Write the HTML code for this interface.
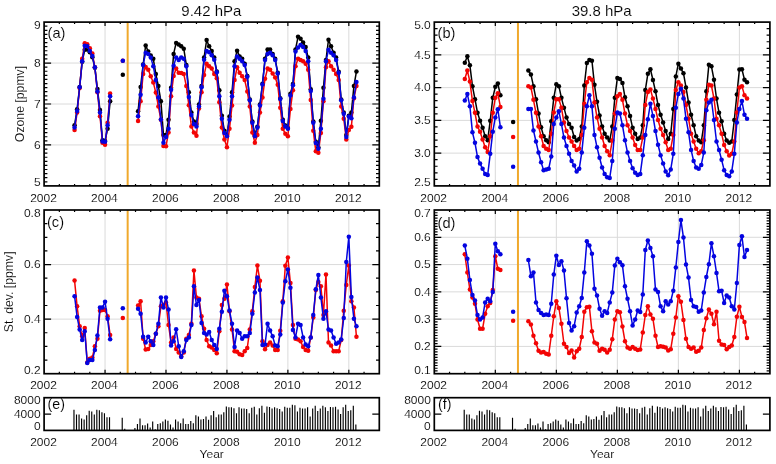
<!DOCTYPE html>
<html><head><meta charset="utf-8"><title>Ozone time series</title>
<style>html,body{margin:0;padding:0;background:#fff}svg{display:block;will-change:transform}</style></head>
<body>
<svg width="776" height="464" viewBox="0 0 776 464" font-family="'Liberation Sans', sans-serif" fill="#000">
<rect width="776" height="464" fill="#fff"/>
<g stroke="#dadada" stroke-width="1"><line x1="105.05" y1="22.1" x2="105.05" y2="185.9"/><line x1="165.99" y1="22.1" x2="165.99" y2="185.9"/><line x1="226.94" y1="22.1" x2="226.94" y2="185.9"/><line x1="287.88" y1="22.1" x2="287.88" y2="185.9"/><line x1="348.83" y1="22.1" x2="348.83" y2="185.9"/><line x1="44.1" y1="144.95" x2="379.3" y2="144.95"/><line x1="44.1" y1="104" x2="379.3" y2="104"/><line x1="44.1" y1="63.05" x2="379.3" y2="63.05"/></g>
<line x1="127.66" y1="22.1" x2="127.66" y2="185.9" stroke="#f0a92c" stroke-width="2"/>
<path d="M74.57 125.16L77.11 109.29L79.65 86.9L82.19 61.67L84.73 49.86L87.27 49.46L89.81 52.31L92.35 57.19L94.89 67.77L97.43 88.94L99.97 110.1L102.51 140.22L105.05 141.03L107.58 128.82L110.12 101.15M138.06 111.32L140.6 86.9L143.14 64.52L145.68 45.39L148.22 51.49L150.75 55.56L153.29 58.82L155.83 73.88L158.37 86.09L160.91 101.15L163.45 134.93L165.99 134.93L168.53 119.87L171.07 87.71L173.61 53.93L176.15 42.94L178.69 44.57L181.23 46.2L183.77 48.64L186.31 64.92L188.85 92.19L191.38 112.54L193.92 121.5L196.46 123.94L199 104.4L201.54 86.09L204.08 57.6L206.62 40.09L209.16 46.2L211.7 51.08L214.24 57.6L216.78 71.43L219.32 90.16L221.86 115.8L224.4 130.86L226.94 134.93L229.48 116.61L232.02 92.19L234.55 61.26L237.09 50.68L239.63 56.38L242.17 58.82L244.71 63.7L247.25 75.91L249.79 99.52L252.33 121.5L254.87 134.93L257.41 126.79L259.95 104.4L262.49 83.64L265.03 58.82L267.57 49.46L270.11 49.46L272.65 53.93L275.18 58.82L277.72 72.66L280.26 98.3L282.8 119.87L285.34 125.57L287.88 128.01L290.42 93.82L292.96 84.05L295.5 49.46L298.04 36.84L300.58 38.87L303.12 42.54L305.66 47.01L308.2 57.6L310.74 89.34L313.28 121.5L315.82 141.85L318.35 147.14L320.89 120.68L323.43 87.71L325.97 60.04L328.51 39.69L331.05 46.2L333.59 52.71L336.13 57.6L338.67 71.84L341.21 99.52L343.75 112.54L346.29 134.93L348.83 115.8L351.37 112.54L353.91 86.09L356.45 71.43" stroke="#000" stroke-width="1.5" fill="none" stroke-linejoin="round"/>
<g fill="#000"><circle cx="74.57" cy="125.16" r="2.25"/><circle cx="77.11" cy="109.29" r="2.25"/><circle cx="79.65" cy="86.9" r="2.25"/><circle cx="82.19" cy="61.67" r="2.25"/><circle cx="84.73" cy="49.86" r="2.25"/><circle cx="87.27" cy="49.46" r="2.25"/><circle cx="89.81" cy="52.31" r="2.25"/><circle cx="92.35" cy="57.19" r="2.25"/><circle cx="94.89" cy="67.77" r="2.25"/><circle cx="97.43" cy="88.94" r="2.25"/><circle cx="99.97" cy="110.1" r="2.25"/><circle cx="102.51" cy="140.22" r="2.25"/><circle cx="105.05" cy="141.03" r="2.25"/><circle cx="107.58" cy="128.82" r="2.25"/><circle cx="110.12" cy="101.15" r="2.25"/><circle cx="122.82" cy="74.69" r="2.25"/><circle cx="138.06" cy="111.32" r="2.25"/><circle cx="140.6" cy="86.9" r="2.25"/><circle cx="143.14" cy="64.52" r="2.25"/><circle cx="145.68" cy="45.39" r="2.25"/><circle cx="148.22" cy="51.49" r="2.25"/><circle cx="150.75" cy="55.56" r="2.25"/><circle cx="153.29" cy="58.82" r="2.25"/><circle cx="155.83" cy="73.88" r="2.25"/><circle cx="158.37" cy="86.09" r="2.25"/><circle cx="160.91" cy="101.15" r="2.25"/><circle cx="163.45" cy="134.93" r="2.25"/><circle cx="165.99" cy="134.93" r="2.25"/><circle cx="168.53" cy="119.87" r="2.25"/><circle cx="171.07" cy="87.71" r="2.25"/><circle cx="173.61" cy="53.93" r="2.25"/><circle cx="176.15" cy="42.94" r="2.25"/><circle cx="178.69" cy="44.57" r="2.25"/><circle cx="181.23" cy="46.2" r="2.25"/><circle cx="183.77" cy="48.64" r="2.25"/><circle cx="186.31" cy="64.92" r="2.25"/><circle cx="188.85" cy="92.19" r="2.25"/><circle cx="191.38" cy="112.54" r="2.25"/><circle cx="193.92" cy="121.5" r="2.25"/><circle cx="196.46" cy="123.94" r="2.25"/><circle cx="199" cy="104.4" r="2.25"/><circle cx="201.54" cy="86.09" r="2.25"/><circle cx="204.08" cy="57.6" r="2.25"/><circle cx="206.62" cy="40.09" r="2.25"/><circle cx="209.16" cy="46.2" r="2.25"/><circle cx="211.7" cy="51.08" r="2.25"/><circle cx="214.24" cy="57.6" r="2.25"/><circle cx="216.78" cy="71.43" r="2.25"/><circle cx="219.32" cy="90.16" r="2.25"/><circle cx="221.86" cy="115.8" r="2.25"/><circle cx="224.4" cy="130.86" r="2.25"/><circle cx="226.94" cy="134.93" r="2.25"/><circle cx="229.48" cy="116.61" r="2.25"/><circle cx="232.02" cy="92.19" r="2.25"/><circle cx="234.55" cy="61.26" r="2.25"/><circle cx="237.09" cy="50.68" r="2.25"/><circle cx="239.63" cy="56.38" r="2.25"/><circle cx="242.17" cy="58.82" r="2.25"/><circle cx="244.71" cy="63.7" r="2.25"/><circle cx="247.25" cy="75.91" r="2.25"/><circle cx="249.79" cy="99.52" r="2.25"/><circle cx="252.33" cy="121.5" r="2.25"/><circle cx="254.87" cy="134.93" r="2.25"/><circle cx="257.41" cy="126.79" r="2.25"/><circle cx="259.95" cy="104.4" r="2.25"/><circle cx="262.49" cy="83.64" r="2.25"/><circle cx="265.03" cy="58.82" r="2.25"/><circle cx="267.57" cy="49.46" r="2.25"/><circle cx="270.11" cy="49.46" r="2.25"/><circle cx="272.65" cy="53.93" r="2.25"/><circle cx="275.18" cy="58.82" r="2.25"/><circle cx="277.72" cy="72.66" r="2.25"/><circle cx="280.26" cy="98.3" r="2.25"/><circle cx="282.8" cy="119.87" r="2.25"/><circle cx="285.34" cy="125.57" r="2.25"/><circle cx="287.88" cy="128.01" r="2.25"/><circle cx="290.42" cy="93.82" r="2.25"/><circle cx="292.96" cy="84.05" r="2.25"/><circle cx="295.5" cy="49.46" r="2.25"/><circle cx="298.04" cy="36.84" r="2.25"/><circle cx="300.58" cy="38.87" r="2.25"/><circle cx="303.12" cy="42.54" r="2.25"/><circle cx="305.66" cy="47.01" r="2.25"/><circle cx="308.2" cy="57.6" r="2.25"/><circle cx="310.74" cy="89.34" r="2.25"/><circle cx="313.28" cy="121.5" r="2.25"/><circle cx="315.82" cy="141.85" r="2.25"/><circle cx="318.35" cy="147.14" r="2.25"/><circle cx="320.89" cy="120.68" r="2.25"/><circle cx="323.43" cy="87.71" r="2.25"/><circle cx="325.97" cy="60.04" r="2.25"/><circle cx="328.51" cy="39.69" r="2.25"/><circle cx="331.05" cy="46.2" r="2.25"/><circle cx="333.59" cy="52.71" r="2.25"/><circle cx="336.13" cy="57.6" r="2.25"/><circle cx="338.67" cy="71.84" r="2.25"/><circle cx="341.21" cy="99.52" r="2.25"/><circle cx="343.75" cy="112.54" r="2.25"/><circle cx="346.29" cy="134.93" r="2.25"/><circle cx="348.83" cy="115.8" r="2.25"/><circle cx="351.37" cy="112.54" r="2.25"/><circle cx="353.91" cy="86.09" r="2.25"/><circle cx="356.45" cy="71.43" r="2.25"/></g>
<path d="M74.57 130.04L77.11 112.54L79.65 88.12L82.19 58.82L84.73 43.35L87.27 44.17L89.81 48.24L92.35 53.53L94.89 67.36L97.43 92.19L99.97 116.2L102.51 142.66L105.05 144.69L107.58 122.72L110.12 93.41M138.06 121.09L140.6 101.15L143.14 73.88L145.68 66.96L148.22 69.81L150.75 76.32L153.29 82.42L155.83 92.6L158.37 106.44L160.91 119.87L163.45 145.92L165.99 146.32L168.53 132.48L171.07 96.26L173.61 75.91L176.15 68.59L178.69 72.66L181.23 73.06L183.77 73.88L186.31 86.09L188.85 105.22L191.38 126.38L193.92 132.48L196.46 135.74L199 108.47L201.54 92.19L204.08 75.1L206.62 63.7L209.16 66.14L211.7 68.59L214.24 73.88L216.78 78.35L219.32 102.37L221.86 127.6L224.4 139.4L226.94 147.14L229.48 128.82L232.02 105.62L234.55 79.98L237.09 67.36L239.63 72.66L242.17 76.32L244.71 79.98L247.25 91.38L249.79 106.44L252.33 132.48L254.87 142.66L257.41 134.93L259.95 112.54L262.49 97.48L265.03 78.76L267.57 68.59L270.11 69.81L272.65 73.47L275.18 77.54L277.72 84.87L280.26 107.66L282.8 128.82L285.34 133.71L287.88 136.15L290.42 108.88L292.96 90.16L295.5 66.14L298.04 58.82L300.58 60.04L303.12 61.26L305.66 63.7L308.2 69.81L310.74 99.92L313.28 130.86L315.82 151.21L318.35 152.83L320.89 132.89L323.43 101.15L325.97 67.36L328.51 61.26L331.05 66.14L333.59 69.81L336.13 73.88L338.67 79.98L341.21 106.44L343.75 118.65L346.29 139.4L348.83 130.04L351.37 126.79L353.91 98.3L356.45 86.09" stroke="#f20404" stroke-width="1.5" fill="none" stroke-linejoin="round"/>
<g fill="#f20404"><circle cx="74.57" cy="130.04" r="2.25"/><circle cx="77.11" cy="112.54" r="2.25"/><circle cx="79.65" cy="88.12" r="2.25"/><circle cx="82.19" cy="58.82" r="2.25"/><circle cx="84.73" cy="43.35" r="2.25"/><circle cx="87.27" cy="44.17" r="2.25"/><circle cx="89.81" cy="48.24" r="2.25"/><circle cx="92.35" cy="53.53" r="2.25"/><circle cx="94.89" cy="67.36" r="2.25"/><circle cx="97.43" cy="92.19" r="2.25"/><circle cx="99.97" cy="116.2" r="2.25"/><circle cx="102.51" cy="142.66" r="2.25"/><circle cx="105.05" cy="144.69" r="2.25"/><circle cx="107.58" cy="122.72" r="2.25"/><circle cx="110.12" cy="93.41" r="2.25"/><circle cx="122.82" cy="60.85" r="2.25"/><circle cx="138.06" cy="121.09" r="2.25"/><circle cx="140.6" cy="101.15" r="2.25"/><circle cx="143.14" cy="73.88" r="2.25"/><circle cx="145.68" cy="66.96" r="2.25"/><circle cx="148.22" cy="69.81" r="2.25"/><circle cx="150.75" cy="76.32" r="2.25"/><circle cx="153.29" cy="82.42" r="2.25"/><circle cx="155.83" cy="92.6" r="2.25"/><circle cx="158.37" cy="106.44" r="2.25"/><circle cx="160.91" cy="119.87" r="2.25"/><circle cx="163.45" cy="145.92" r="2.25"/><circle cx="165.99" cy="146.32" r="2.25"/><circle cx="168.53" cy="132.48" r="2.25"/><circle cx="171.07" cy="96.26" r="2.25"/><circle cx="173.61" cy="75.91" r="2.25"/><circle cx="176.15" cy="68.59" r="2.25"/><circle cx="178.69" cy="72.66" r="2.25"/><circle cx="181.23" cy="73.06" r="2.25"/><circle cx="183.77" cy="73.88" r="2.25"/><circle cx="186.31" cy="86.09" r="2.25"/><circle cx="188.85" cy="105.22" r="2.25"/><circle cx="191.38" cy="126.38" r="2.25"/><circle cx="193.92" cy="132.48" r="2.25"/><circle cx="196.46" cy="135.74" r="2.25"/><circle cx="199" cy="108.47" r="2.25"/><circle cx="201.54" cy="92.19" r="2.25"/><circle cx="204.08" cy="75.1" r="2.25"/><circle cx="206.62" cy="63.7" r="2.25"/><circle cx="209.16" cy="66.14" r="2.25"/><circle cx="211.7" cy="68.59" r="2.25"/><circle cx="214.24" cy="73.88" r="2.25"/><circle cx="216.78" cy="78.35" r="2.25"/><circle cx="219.32" cy="102.37" r="2.25"/><circle cx="221.86" cy="127.6" r="2.25"/><circle cx="224.4" cy="139.4" r="2.25"/><circle cx="226.94" cy="147.14" r="2.25"/><circle cx="229.48" cy="128.82" r="2.25"/><circle cx="232.02" cy="105.62" r="2.25"/><circle cx="234.55" cy="79.98" r="2.25"/><circle cx="237.09" cy="67.36" r="2.25"/><circle cx="239.63" cy="72.66" r="2.25"/><circle cx="242.17" cy="76.32" r="2.25"/><circle cx="244.71" cy="79.98" r="2.25"/><circle cx="247.25" cy="91.38" r="2.25"/><circle cx="249.79" cy="106.44" r="2.25"/><circle cx="252.33" cy="132.48" r="2.25"/><circle cx="254.87" cy="142.66" r="2.25"/><circle cx="257.41" cy="134.93" r="2.25"/><circle cx="259.95" cy="112.54" r="2.25"/><circle cx="262.49" cy="97.48" r="2.25"/><circle cx="265.03" cy="78.76" r="2.25"/><circle cx="267.57" cy="68.59" r="2.25"/><circle cx="270.11" cy="69.81" r="2.25"/><circle cx="272.65" cy="73.47" r="2.25"/><circle cx="275.18" cy="77.54" r="2.25"/><circle cx="277.72" cy="84.87" r="2.25"/><circle cx="280.26" cy="107.66" r="2.25"/><circle cx="282.8" cy="128.82" r="2.25"/><circle cx="285.34" cy="133.71" r="2.25"/><circle cx="287.88" cy="136.15" r="2.25"/><circle cx="290.42" cy="108.88" r="2.25"/><circle cx="292.96" cy="90.16" r="2.25"/><circle cx="295.5" cy="66.14" r="2.25"/><circle cx="298.04" cy="58.82" r="2.25"/><circle cx="300.58" cy="60.04" r="2.25"/><circle cx="303.12" cy="61.26" r="2.25"/><circle cx="305.66" cy="63.7" r="2.25"/><circle cx="308.2" cy="69.81" r="2.25"/><circle cx="310.74" cy="99.92" r="2.25"/><circle cx="313.28" cy="130.86" r="2.25"/><circle cx="315.82" cy="151.21" r="2.25"/><circle cx="318.35" cy="152.83" r="2.25"/><circle cx="320.89" cy="132.89" r="2.25"/><circle cx="323.43" cy="101.15" r="2.25"/><circle cx="325.97" cy="67.36" r="2.25"/><circle cx="328.51" cy="61.26" r="2.25"/><circle cx="331.05" cy="66.14" r="2.25"/><circle cx="333.59" cy="69.81" r="2.25"/><circle cx="336.13" cy="73.88" r="2.25"/><circle cx="338.67" cy="79.98" r="2.25"/><circle cx="341.21" cy="106.44" r="2.25"/><circle cx="343.75" cy="118.65" r="2.25"/><circle cx="346.29" cy="139.4" r="2.25"/><circle cx="348.83" cy="130.04" r="2.25"/><circle cx="351.37" cy="126.79" r="2.25"/><circle cx="353.91" cy="98.3" r="2.25"/><circle cx="356.45" cy="86.09" r="2.25"/></g>
<path d="M74.57 127.6L77.11 110.91L79.65 87.31L82.19 61.26L84.73 45.79L87.27 46.2L89.81 51.08L92.35 55.97L94.89 67.36L97.43 91.38L99.97 112.54L102.51 141.44L105.05 141.85L107.58 125.16L110.12 96.26M138.06 116.2L140.6 94.63L143.14 64.92L145.68 52.71L148.22 53.93L150.75 57.6L153.29 66.14L155.83 79.98L158.37 97.48L160.91 119.46L163.45 142.66L165.99 136.96L168.53 128.82L171.07 89.75L173.61 65.74L176.15 57.6L178.69 60.04L181.23 57.6L183.77 58.82L186.31 66.14L188.85 97.08L191.38 114.98L193.92 123.94L196.46 126.38L199 106.44L201.54 87.31L204.08 59.63L206.62 51.08L209.16 52.31L211.7 55.15L214.24 59.63L216.78 72.25L219.32 96.26L221.86 118.65L224.4 132.89L226.94 136.15L229.48 119.87L232.02 96.26L234.55 66.14L237.09 56.38L239.63 58.82L242.17 61.26L244.71 64.92L247.25 76.73L249.79 100.33L252.33 122.72L254.87 136.15L257.41 127.6L259.95 105.62L262.49 84.46L265.03 60.04L267.57 53.93L270.11 52.71L272.65 55.15L275.18 60.04L277.72 73.47L280.26 99.11L282.8 121.09L285.34 126.38L287.88 128.82L290.42 95.45L292.96 85.27L295.5 51.49L298.04 47.42L300.58 44.98L303.12 47.01L305.66 51.08L308.2 61.26L310.74 90.97L313.28 122.72L315.82 143.07L318.35 148.76L320.89 128.82L323.43 98.7L325.97 61.26L328.51 49.86L331.05 52.71L333.59 55.15L336.13 60.04L338.67 72.66L341.21 100.33L343.75 113.76L346.29 136.96L348.83 116.61L351.37 118.24L353.91 97.48L356.45 82.02" stroke="#0404e0" stroke-width="1.5" fill="none" stroke-linejoin="round"/>
<g fill="#0404e0"><circle cx="74.57" cy="127.6" r="2.25"/><circle cx="77.11" cy="110.91" r="2.25"/><circle cx="79.65" cy="87.31" r="2.25"/><circle cx="82.19" cy="61.26" r="2.25"/><circle cx="84.73" cy="45.79" r="2.25"/><circle cx="87.27" cy="46.2" r="2.25"/><circle cx="89.81" cy="51.08" r="2.25"/><circle cx="92.35" cy="55.97" r="2.25"/><circle cx="94.89" cy="67.36" r="2.25"/><circle cx="97.43" cy="91.38" r="2.25"/><circle cx="99.97" cy="112.54" r="2.25"/><circle cx="102.51" cy="141.44" r="2.25"/><circle cx="105.05" cy="141.85" r="2.25"/><circle cx="107.58" cy="125.16" r="2.25"/><circle cx="110.12" cy="96.26" r="2.25"/><circle cx="122.82" cy="60.85" r="2.25"/><circle cx="138.06" cy="116.2" r="2.25"/><circle cx="140.6" cy="94.63" r="2.25"/><circle cx="143.14" cy="64.92" r="2.25"/><circle cx="145.68" cy="52.71" r="2.25"/><circle cx="148.22" cy="53.93" r="2.25"/><circle cx="150.75" cy="57.6" r="2.25"/><circle cx="153.29" cy="66.14" r="2.25"/><circle cx="155.83" cy="79.98" r="2.25"/><circle cx="158.37" cy="97.48" r="2.25"/><circle cx="160.91" cy="119.46" r="2.25"/><circle cx="163.45" cy="142.66" r="2.25"/><circle cx="165.99" cy="136.96" r="2.25"/><circle cx="168.53" cy="128.82" r="2.25"/><circle cx="171.07" cy="89.75" r="2.25"/><circle cx="173.61" cy="65.74" r="2.25"/><circle cx="176.15" cy="57.6" r="2.25"/><circle cx="178.69" cy="60.04" r="2.25"/><circle cx="181.23" cy="57.6" r="2.25"/><circle cx="183.77" cy="58.82" r="2.25"/><circle cx="186.31" cy="66.14" r="2.25"/><circle cx="188.85" cy="97.08" r="2.25"/><circle cx="191.38" cy="114.98" r="2.25"/><circle cx="193.92" cy="123.94" r="2.25"/><circle cx="196.46" cy="126.38" r="2.25"/><circle cx="199" cy="106.44" r="2.25"/><circle cx="201.54" cy="87.31" r="2.25"/><circle cx="204.08" cy="59.63" r="2.25"/><circle cx="206.62" cy="51.08" r="2.25"/><circle cx="209.16" cy="52.31" r="2.25"/><circle cx="211.7" cy="55.15" r="2.25"/><circle cx="214.24" cy="59.63" r="2.25"/><circle cx="216.78" cy="72.25" r="2.25"/><circle cx="219.32" cy="96.26" r="2.25"/><circle cx="221.86" cy="118.65" r="2.25"/><circle cx="224.4" cy="132.89" r="2.25"/><circle cx="226.94" cy="136.15" r="2.25"/><circle cx="229.48" cy="119.87" r="2.25"/><circle cx="232.02" cy="96.26" r="2.25"/><circle cx="234.55" cy="66.14" r="2.25"/><circle cx="237.09" cy="56.38" r="2.25"/><circle cx="239.63" cy="58.82" r="2.25"/><circle cx="242.17" cy="61.26" r="2.25"/><circle cx="244.71" cy="64.92" r="2.25"/><circle cx="247.25" cy="76.73" r="2.25"/><circle cx="249.79" cy="100.33" r="2.25"/><circle cx="252.33" cy="122.72" r="2.25"/><circle cx="254.87" cy="136.15" r="2.25"/><circle cx="257.41" cy="127.6" r="2.25"/><circle cx="259.95" cy="105.62" r="2.25"/><circle cx="262.49" cy="84.46" r="2.25"/><circle cx="265.03" cy="60.04" r="2.25"/><circle cx="267.57" cy="53.93" r="2.25"/><circle cx="270.11" cy="52.71" r="2.25"/><circle cx="272.65" cy="55.15" r="2.25"/><circle cx="275.18" cy="60.04" r="2.25"/><circle cx="277.72" cy="73.47" r="2.25"/><circle cx="280.26" cy="99.11" r="2.25"/><circle cx="282.8" cy="121.09" r="2.25"/><circle cx="285.34" cy="126.38" r="2.25"/><circle cx="287.88" cy="128.82" r="2.25"/><circle cx="290.42" cy="95.45" r="2.25"/><circle cx="292.96" cy="85.27" r="2.25"/><circle cx="295.5" cy="51.49" r="2.25"/><circle cx="298.04" cy="47.42" r="2.25"/><circle cx="300.58" cy="44.98" r="2.25"/><circle cx="303.12" cy="47.01" r="2.25"/><circle cx="305.66" cy="51.08" r="2.25"/><circle cx="308.2" cy="61.26" r="2.25"/><circle cx="310.74" cy="90.97" r="2.25"/><circle cx="313.28" cy="122.72" r="2.25"/><circle cx="315.82" cy="143.07" r="2.25"/><circle cx="318.35" cy="148.76" r="2.25"/><circle cx="320.89" cy="128.82" r="2.25"/><circle cx="323.43" cy="98.7" r="2.25"/><circle cx="325.97" cy="61.26" r="2.25"/><circle cx="328.51" cy="49.86" r="2.25"/><circle cx="331.05" cy="52.71" r="2.25"/><circle cx="333.59" cy="55.15" r="2.25"/><circle cx="336.13" cy="60.04" r="2.25"/><circle cx="338.67" cy="72.66" r="2.25"/><circle cx="341.21" cy="100.33" r="2.25"/><circle cx="343.75" cy="113.76" r="2.25"/><circle cx="346.29" cy="136.96" r="2.25"/><circle cx="348.83" cy="116.61" r="2.25"/><circle cx="351.37" cy="118.24" r="2.25"/><circle cx="353.91" cy="97.48" r="2.25"/><circle cx="356.45" cy="82.02" r="2.25"/></g>
<path d="M59.34 185.9v-2M59.34 22.1v2M74.57 185.9v-2M74.57 22.1v2M89.81 185.9v-2M89.81 22.1v2M105.05 185.9v-4M105.05 22.1v4M120.28 185.9v-2M120.28 22.1v2M135.52 185.9v-2M135.52 22.1v2M150.75 185.9v-2M150.75 22.1v2M165.99 185.9v-4M165.99 22.1v4M181.23 185.9v-2M181.23 22.1v2M196.46 185.9v-2M196.46 22.1v2M211.7 185.9v-2M211.7 22.1v2M226.94 185.9v-4M226.94 22.1v4M242.17 185.9v-2M242.17 22.1v2M257.41 185.9v-2M257.41 22.1v2M272.65 185.9v-2M272.65 22.1v2M287.88 185.9v-4M287.88 22.1v4M303.12 185.9v-2M303.12 22.1v2M318.35 185.9v-2M318.35 22.1v2M333.59 185.9v-2M333.59 22.1v2M348.83 185.9v-4M348.83 22.1v4M364.06 185.9v-2M364.06 22.1v2M44.1 181.81h3.3M379.3 181.81h-3.3M44.1 177.71h3.3M379.3 177.71h-3.3M44.1 173.62h3.3M379.3 173.62h-3.3M44.1 169.52h3.3M379.3 169.52h-3.3M44.1 165.43h3.3M379.3 165.43h-3.3M44.1 161.33h3.3M379.3 161.33h-3.3M44.1 157.23h3.3M379.3 157.23h-3.3M44.1 153.14h3.3M379.3 153.14h-3.3M44.1 149.04h3.3M379.3 149.04h-3.3M44.1 144.95h7M379.3 144.95h-7M44.1 140.86h3.3M379.3 140.86h-3.3M44.1 136.76h3.3M379.3 136.76h-3.3M44.1 132.67h3.3M379.3 132.67h-3.3M44.1 128.57h3.3M379.3 128.57h-3.3M44.1 124.47h3.3M379.3 124.47h-3.3M44.1 120.38h3.3M379.3 120.38h-3.3M44.1 116.28h3.3M379.3 116.28h-3.3M44.1 112.19h3.3M379.3 112.19h-3.3M44.1 108.09h3.3M379.3 108.09h-3.3M44.1 104h7M379.3 104h-7M44.1 99.91h3.3M379.3 99.91h-3.3M44.1 95.81h3.3M379.3 95.81h-3.3M44.1 91.71h3.3M379.3 91.71h-3.3M44.1 87.62h3.3M379.3 87.62h-3.3M44.1 83.53h3.3M379.3 83.53h-3.3M44.1 79.43h3.3M379.3 79.43h-3.3M44.1 75.33h3.3M379.3 75.33h-3.3M44.1 71.24h3.3M379.3 71.24h-3.3M44.1 67.14h3.3M379.3 67.14h-3.3M44.1 63.05h7M379.3 63.05h-7M44.1 58.96h3.3M379.3 58.96h-3.3M44.1 54.86h3.3M379.3 54.86h-3.3M44.1 50.76h3.3M379.3 50.76h-3.3M44.1 46.67h3.3M379.3 46.67h-3.3M44.1 42.57h3.3M379.3 42.57h-3.3M44.1 38.48h3.3M379.3 38.48h-3.3M44.1 34.39h3.3M379.3 34.39h-3.3M44.1 30.29h3.3M379.3 30.29h-3.3M44.1 26.19h3.3M379.3 26.19h-3.3" stroke="#000" stroke-width="1.2" fill="none"/>
<rect x="44.1" y="22.1" width="335.2" height="163.8" fill="none" stroke="#000" stroke-width="1.7"/>
<text transform="translate(43.5,201.5) scale(1,0.96)" font-size="12.0" text-anchor="middle" stroke="#fff" stroke-width="0.12">2002</text>
<text transform="translate(104.45,201.5) scale(1,0.96)" font-size="12.0" text-anchor="middle" stroke="#fff" stroke-width="0.12">2004</text>
<text transform="translate(165.39,201.5) scale(1,0.96)" font-size="12.0" text-anchor="middle" stroke="#fff" stroke-width="0.12">2006</text>
<text transform="translate(226.34,201.5) scale(1,0.96)" font-size="12.0" text-anchor="middle" stroke="#fff" stroke-width="0.12">2008</text>
<text transform="translate(287.28,201.5) scale(1,0.96)" font-size="12.0" text-anchor="middle" stroke="#fff" stroke-width="0.12">2010</text>
<text transform="translate(348.23,201.5) scale(1,0.96)" font-size="12.0" text-anchor="middle" stroke="#fff" stroke-width="0.12">2012</text>
<text transform="translate(40.6,186.3) scale(1,0.96)" font-size="12.0" text-anchor="end" stroke="#fff" stroke-width="0.12">5</text>
<text transform="translate(40.6,148.8) scale(1,0.96)" font-size="12.0" text-anchor="end" stroke="#fff" stroke-width="0.12">6</text>
<text transform="translate(40.6,107.85) scale(1,0.96)" font-size="12.0" text-anchor="end" stroke="#fff" stroke-width="0.12">7</text>
<text transform="translate(40.6,66.9) scale(1,0.96)" font-size="12.0" text-anchor="end" stroke="#fff" stroke-width="0.12">8</text>
<text transform="translate(40.6,29.05) scale(1,0.96)" font-size="12.0" text-anchor="end" stroke="#fff" stroke-width="0.12">9</text>
<text transform="translate(47.6,37.5) scale(1,1)" font-size="14.6" text-anchor="start" stroke="#fff" stroke-width="0.12">(a)</text>
<g stroke="#dadada" stroke-width="1"><line x1="495.32" y1="22.1" x2="495.32" y2="185.9"/><line x1="556.34" y1="22.1" x2="556.34" y2="185.9"/><line x1="617.35" y1="22.1" x2="617.35" y2="185.9"/><line x1="678.37" y1="22.1" x2="678.37" y2="185.9"/><line x1="739.39" y1="22.1" x2="739.39" y2="185.9"/><line x1="434.3" y1="153.14" x2="769.9" y2="153.14"/><line x1="434.3" y1="120.38" x2="769.9" y2="120.38"/><line x1="434.3" y1="87.62" x2="769.9" y2="87.62"/><line x1="434.3" y1="54.86" x2="769.9" y2="54.86"/></g>
<line x1="517.96" y1="22.1" x2="517.96" y2="185.9" stroke="#f0a92c" stroke-width="2"/>
<path d="M464.81 62.71L467.35 56.2L469.89 65.32L472.44 86.15L474.98 99.17L477.52 112.84L480.06 120.65L482.61 127.81L485.15 136.27L487.69 140.18L490.23 120.65L492.78 97.87L495.32 86.8L497.86 83.54L500.4 95.26M528.37 70.52L530.91 74.43L533.45 86.15L536 99.17L538.54 113.49L541.08 127.16L543.62 136.27L546.17 140.18L548.71 142.13L551.25 121.3L553.79 97.87L556.34 84.19L558.88 86.15L561.42 97.87L563.96 107.63L566.51 117.4L569.05 123.91L571.59 127.81L574.13 136.93L576.68 140.51L579.22 138.88L581.76 126.51L584.3 85.5L586.85 63.04L589.39 60.11L591.93 60.76L594.47 84.85L597.02 101.77L599.56 115.44L602.1 126.51L604.64 133.67L607.18 137.58L609.73 140.51L612.27 126.51L614.81 97.87L617.35 78.01L619.9 78.99L622.44 82.89L624.98 97.21L627.52 106.33L630.07 116.09L632.61 127.81L635.15 133.67L637.69 138.88L640.24 137.58L642.78 125.21L645.32 90.05L647.86 73.78L650.41 69.22L652.95 79.96L655.49 91.36L658.03 105.03L660.58 114.79L663.12 122.6L665.66 131.07L668.2 138.88L670.75 133.67L673.29 108.93L675.83 76.38L678.37 63.69L680.92 68.57L683.46 73.13L686 87.45L688.54 102.42L691.08 114.79L693.63 125.21L696.17 136.27L698.71 140.51L701.25 142.13L703.8 125.21L706.34 91.36L708.88 64.66L711.42 66.29L713.97 79.64L716.51 98.52L719.05 112.84L721.59 121.3L724.14 133.67L726.68 140.51L729.22 142.78L731.76 141.48L734.31 120L736.85 94.61L739.39 69.55L741.93 69.22L744.48 79.64L747.02 82.24" stroke="#000" stroke-width="1.5" fill="none" stroke-linejoin="round"/>
<g fill="#000"><circle cx="464.81" cy="62.71" r="2.25"/><circle cx="467.35" cy="56.2" r="2.25"/><circle cx="469.89" cy="65.32" r="2.25"/><circle cx="472.44" cy="86.15" r="2.25"/><circle cx="474.98" cy="99.17" r="2.25"/><circle cx="477.52" cy="112.84" r="2.25"/><circle cx="480.06" cy="120.65" r="2.25"/><circle cx="482.61" cy="127.81" r="2.25"/><circle cx="485.15" cy="136.27" r="2.25"/><circle cx="487.69" cy="140.18" r="2.25"/><circle cx="490.23" cy="120.65" r="2.25"/><circle cx="492.78" cy="97.87" r="2.25"/><circle cx="495.32" cy="86.8" r="2.25"/><circle cx="497.86" cy="83.54" r="2.25"/><circle cx="500.4" cy="95.26" r="2.25"/><circle cx="513.12" cy="121.95" r="2.25"/><circle cx="528.37" cy="70.52" r="2.25"/><circle cx="530.91" cy="74.43" r="2.25"/><circle cx="533.45" cy="86.15" r="2.25"/><circle cx="536" cy="99.17" r="2.25"/><circle cx="538.54" cy="113.49" r="2.25"/><circle cx="541.08" cy="127.16" r="2.25"/><circle cx="543.62" cy="136.27" r="2.25"/><circle cx="546.17" cy="140.18" r="2.25"/><circle cx="548.71" cy="142.13" r="2.25"/><circle cx="551.25" cy="121.3" r="2.25"/><circle cx="553.79" cy="97.87" r="2.25"/><circle cx="556.34" cy="84.19" r="2.25"/><circle cx="558.88" cy="86.15" r="2.25"/><circle cx="561.42" cy="97.87" r="2.25"/><circle cx="563.96" cy="107.63" r="2.25"/><circle cx="566.51" cy="117.4" r="2.25"/><circle cx="569.05" cy="123.91" r="2.25"/><circle cx="571.59" cy="127.81" r="2.25"/><circle cx="574.13" cy="136.93" r="2.25"/><circle cx="576.68" cy="140.51" r="2.25"/><circle cx="579.22" cy="138.88" r="2.25"/><circle cx="581.76" cy="126.51" r="2.25"/><circle cx="584.3" cy="85.5" r="2.25"/><circle cx="586.85" cy="63.04" r="2.25"/><circle cx="589.39" cy="60.11" r="2.25"/><circle cx="591.93" cy="60.76" r="2.25"/><circle cx="594.47" cy="84.85" r="2.25"/><circle cx="597.02" cy="101.77" r="2.25"/><circle cx="599.56" cy="115.44" r="2.25"/><circle cx="602.1" cy="126.51" r="2.25"/><circle cx="604.64" cy="133.67" r="2.25"/><circle cx="607.18" cy="137.58" r="2.25"/><circle cx="609.73" cy="140.51" r="2.25"/><circle cx="612.27" cy="126.51" r="2.25"/><circle cx="614.81" cy="97.87" r="2.25"/><circle cx="617.35" cy="78.01" r="2.25"/><circle cx="619.9" cy="78.99" r="2.25"/><circle cx="622.44" cy="82.89" r="2.25"/><circle cx="624.98" cy="97.21" r="2.25"/><circle cx="627.52" cy="106.33" r="2.25"/><circle cx="630.07" cy="116.09" r="2.25"/><circle cx="632.61" cy="127.81" r="2.25"/><circle cx="635.15" cy="133.67" r="2.25"/><circle cx="637.69" cy="138.88" r="2.25"/><circle cx="640.24" cy="137.58" r="2.25"/><circle cx="642.78" cy="125.21" r="2.25"/><circle cx="645.32" cy="90.05" r="2.25"/><circle cx="647.86" cy="73.78" r="2.25"/><circle cx="650.41" cy="69.22" r="2.25"/><circle cx="652.95" cy="79.96" r="2.25"/><circle cx="655.49" cy="91.36" r="2.25"/><circle cx="658.03" cy="105.03" r="2.25"/><circle cx="660.58" cy="114.79" r="2.25"/><circle cx="663.12" cy="122.6" r="2.25"/><circle cx="665.66" cy="131.07" r="2.25"/><circle cx="668.2" cy="138.88" r="2.25"/><circle cx="670.75" cy="133.67" r="2.25"/><circle cx="673.29" cy="108.93" r="2.25"/><circle cx="675.83" cy="76.38" r="2.25"/><circle cx="678.37" cy="63.69" r="2.25"/><circle cx="680.92" cy="68.57" r="2.25"/><circle cx="683.46" cy="73.13" r="2.25"/><circle cx="686" cy="87.45" r="2.25"/><circle cx="688.54" cy="102.42" r="2.25"/><circle cx="691.08" cy="114.79" r="2.25"/><circle cx="693.63" cy="125.21" r="2.25"/><circle cx="696.17" cy="136.27" r="2.25"/><circle cx="698.71" cy="140.51" r="2.25"/><circle cx="701.25" cy="142.13" r="2.25"/><circle cx="703.8" cy="125.21" r="2.25"/><circle cx="706.34" cy="91.36" r="2.25"/><circle cx="708.88" cy="64.66" r="2.25"/><circle cx="711.42" cy="66.29" r="2.25"/><circle cx="713.97" cy="79.64" r="2.25"/><circle cx="716.51" cy="98.52" r="2.25"/><circle cx="719.05" cy="112.84" r="2.25"/><circle cx="721.59" cy="121.3" r="2.25"/><circle cx="724.14" cy="133.67" r="2.25"/><circle cx="726.68" cy="140.51" r="2.25"/><circle cx="729.22" cy="142.78" r="2.25"/><circle cx="731.76" cy="141.48" r="2.25"/><circle cx="734.31" cy="120" r="2.25"/><circle cx="736.85" cy="94.61" r="2.25"/><circle cx="739.39" cy="69.55" r="2.25"/><circle cx="741.93" cy="69.22" r="2.25"/><circle cx="744.48" cy="79.64" r="2.25"/><circle cx="747.02" cy="82.24" r="2.25"/></g>
<path d="M464.81 78.99L467.35 70.52L469.89 81.59L472.44 101.12L474.98 112.84L477.52 126.51L480.06 131.72L482.61 139.53L485.15 147.34L487.69 151.9L490.23 136.27L492.78 112.84L495.32 97.87L497.86 93.31L500.4 106.98M528.37 86.15L530.91 87.45L533.45 99.82L536 112.84L538.54 126.51L541.08 136.27L543.62 146.04L546.17 148.64L548.71 149.95L551.25 133.67L553.79 112.51L556.34 99.17L558.88 99.17L561.42 107.63L563.96 122.6L566.51 131.07L569.05 137.58L571.59 141.48L574.13 146.04L576.68 149.95L579.22 148.64L581.76 134.97L584.3 103.72L586.85 82.24L589.39 78.01L591.93 79.64L594.47 102.42L597.02 117.4L599.56 128.79L602.1 137.58L604.64 146.04L607.18 151.25L609.73 155.15L612.27 140.51L614.81 113.49L617.35 96.24L619.9 93.96L622.44 99.82L624.98 113.49L627.52 125.21L630.07 131.07L632.61 137.58L635.15 145.06L637.69 149.95L640.24 149.95L642.78 137.58L645.32 105.03L647.86 92.01L650.41 89.4L652.95 98.52L655.49 108.93L658.03 120L660.58 128.79L663.12 134.97L665.66 142.13L668.2 149.95L670.75 148.64L673.29 134.97L675.83 90.05L678.37 82.24L680.92 85.5L683.46 92.01L686 105.03L688.54 118.7L691.08 133.67L693.63 141.48L696.17 148.64L698.71 153.2L701.25 151.25L703.8 140.18L706.34 99.82L708.88 84.85L711.42 85.5L713.97 98.52L716.51 118.7L719.05 125.21L721.59 133.67L724.14 145.06L726.68 151.25L729.22 155.48L731.76 153.85L734.31 141.48L736.85 112.51L739.39 87.45L741.93 86.15L744.48 95.26L747.02 98.52" stroke="#f20404" stroke-width="1.5" fill="none" stroke-linejoin="round"/>
<g fill="#f20404"><circle cx="464.81" cy="78.99" r="2.25"/><circle cx="467.35" cy="70.52" r="2.25"/><circle cx="469.89" cy="81.59" r="2.25"/><circle cx="472.44" cy="101.12" r="2.25"/><circle cx="474.98" cy="112.84" r="2.25"/><circle cx="477.52" cy="126.51" r="2.25"/><circle cx="480.06" cy="131.72" r="2.25"/><circle cx="482.61" cy="139.53" r="2.25"/><circle cx="485.15" cy="147.34" r="2.25"/><circle cx="487.69" cy="151.9" r="2.25"/><circle cx="490.23" cy="136.27" r="2.25"/><circle cx="492.78" cy="112.84" r="2.25"/><circle cx="495.32" cy="97.87" r="2.25"/><circle cx="497.86" cy="93.31" r="2.25"/><circle cx="500.4" cy="106.98" r="2.25"/><circle cx="513.12" cy="136.93" r="2.25"/><circle cx="528.37" cy="86.15" r="2.25"/><circle cx="530.91" cy="87.45" r="2.25"/><circle cx="533.45" cy="99.82" r="2.25"/><circle cx="536" cy="112.84" r="2.25"/><circle cx="538.54" cy="126.51" r="2.25"/><circle cx="541.08" cy="136.27" r="2.25"/><circle cx="543.62" cy="146.04" r="2.25"/><circle cx="546.17" cy="148.64" r="2.25"/><circle cx="548.71" cy="149.95" r="2.25"/><circle cx="551.25" cy="133.67" r="2.25"/><circle cx="553.79" cy="112.51" r="2.25"/><circle cx="556.34" cy="99.17" r="2.25"/><circle cx="558.88" cy="99.17" r="2.25"/><circle cx="561.42" cy="107.63" r="2.25"/><circle cx="563.96" cy="122.6" r="2.25"/><circle cx="566.51" cy="131.07" r="2.25"/><circle cx="569.05" cy="137.58" r="2.25"/><circle cx="571.59" cy="141.48" r="2.25"/><circle cx="574.13" cy="146.04" r="2.25"/><circle cx="576.68" cy="149.95" r="2.25"/><circle cx="579.22" cy="148.64" r="2.25"/><circle cx="581.76" cy="134.97" r="2.25"/><circle cx="584.3" cy="103.72" r="2.25"/><circle cx="586.85" cy="82.24" r="2.25"/><circle cx="589.39" cy="78.01" r="2.25"/><circle cx="591.93" cy="79.64" r="2.25"/><circle cx="594.47" cy="102.42" r="2.25"/><circle cx="597.02" cy="117.4" r="2.25"/><circle cx="599.56" cy="128.79" r="2.25"/><circle cx="602.1" cy="137.58" r="2.25"/><circle cx="604.64" cy="146.04" r="2.25"/><circle cx="607.18" cy="151.25" r="2.25"/><circle cx="609.73" cy="155.15" r="2.25"/><circle cx="612.27" cy="140.51" r="2.25"/><circle cx="614.81" cy="113.49" r="2.25"/><circle cx="617.35" cy="96.24" r="2.25"/><circle cx="619.9" cy="93.96" r="2.25"/><circle cx="622.44" cy="99.82" r="2.25"/><circle cx="624.98" cy="113.49" r="2.25"/><circle cx="627.52" cy="125.21" r="2.25"/><circle cx="630.07" cy="131.07" r="2.25"/><circle cx="632.61" cy="137.58" r="2.25"/><circle cx="635.15" cy="145.06" r="2.25"/><circle cx="637.69" cy="149.95" r="2.25"/><circle cx="640.24" cy="149.95" r="2.25"/><circle cx="642.78" cy="137.58" r="2.25"/><circle cx="645.32" cy="105.03" r="2.25"/><circle cx="647.86" cy="92.01" r="2.25"/><circle cx="650.41" cy="89.4" r="2.25"/><circle cx="652.95" cy="98.52" r="2.25"/><circle cx="655.49" cy="108.93" r="2.25"/><circle cx="658.03" cy="120" r="2.25"/><circle cx="660.58" cy="128.79" r="2.25"/><circle cx="663.12" cy="134.97" r="2.25"/><circle cx="665.66" cy="142.13" r="2.25"/><circle cx="668.2" cy="149.95" r="2.25"/><circle cx="670.75" cy="148.64" r="2.25"/><circle cx="673.29" cy="134.97" r="2.25"/><circle cx="675.83" cy="90.05" r="2.25"/><circle cx="678.37" cy="82.24" r="2.25"/><circle cx="680.92" cy="85.5" r="2.25"/><circle cx="683.46" cy="92.01" r="2.25"/><circle cx="686" cy="105.03" r="2.25"/><circle cx="688.54" cy="118.7" r="2.25"/><circle cx="691.08" cy="133.67" r="2.25"/><circle cx="693.63" cy="141.48" r="2.25"/><circle cx="696.17" cy="148.64" r="2.25"/><circle cx="698.71" cy="153.2" r="2.25"/><circle cx="701.25" cy="151.25" r="2.25"/><circle cx="703.8" cy="140.18" r="2.25"/><circle cx="706.34" cy="99.82" r="2.25"/><circle cx="708.88" cy="84.85" r="2.25"/><circle cx="711.42" cy="85.5" r="2.25"/><circle cx="713.97" cy="98.52" r="2.25"/><circle cx="716.51" cy="118.7" r="2.25"/><circle cx="719.05" cy="125.21" r="2.25"/><circle cx="721.59" cy="133.67" r="2.25"/><circle cx="724.14" cy="145.06" r="2.25"/><circle cx="726.68" cy="151.25" r="2.25"/><circle cx="729.22" cy="155.48" r="2.25"/><circle cx="731.76" cy="153.85" r="2.25"/><circle cx="734.31" cy="141.48" r="2.25"/><circle cx="736.85" cy="112.51" r="2.25"/><circle cx="739.39" cy="87.45" r="2.25"/><circle cx="741.93" cy="86.15" r="2.25"/><circle cx="744.48" cy="95.26" r="2.25"/><circle cx="747.02" cy="98.52" r="2.25"/></g>
<path d="M464.81 100.47L467.35 93.96L469.89 106.33L472.44 132.37L474.98 142.78L477.52 157.11L480.06 163.62L482.61 168.82L485.15 174.03L487.69 175.01L490.23 153.85L492.78 131.72L495.32 117.4L497.86 109.26L500.4 127.16M528.37 108.93L530.91 108.93L533.45 130.42L536 141.48L538.54 152.55L541.08 162.31L543.62 170.13L546.17 169.48L548.71 168.82L551.25 156.46L553.79 123.91L556.34 117.4L558.88 111.21L561.42 123.91L563.96 137.58L566.51 146.04L569.05 153.85L571.59 161.01L574.13 165.57L576.68 171.43L579.22 168.82L581.76 152.55L584.3 127.81L586.85 106.33L589.39 95.26L591.93 106.33L594.47 134.97L597.02 147.34L599.56 157.76L602.1 167.52L604.64 174.03L607.18 177.29L609.73 177.94L612.27 161.01L614.81 128.79L617.35 112.51L619.9 113.49L622.44 125.21L624.98 140.18L627.52 152.55L630.07 161.01L632.61 168.17L635.15 172.73L637.69 175.01L640.24 174.03L642.78 155.15L645.32 134.97L647.86 119.35L650.41 103.72L652.95 116.09L655.49 131.07L658.03 144.74L660.58 155.15L663.12 163.62L665.66 171.43L668.2 175.33L670.75 169.48L673.29 153.85L675.83 107.63L678.37 93.96L680.92 88.75L683.46 98.52L686 118.7L688.54 132.37L691.08 149.95L693.63 161.01L696.17 167.52L698.71 168.82L701.25 164.92L703.8 152.55L706.34 110.23L708.88 102.42L711.42 99.82L713.97 120L716.51 141.48L719.05 149.95L721.59 159.71L724.14 170.13L726.68 175.01L729.22 176.31L731.76 171.43L734.31 153.85L736.85 122.6L739.39 108.93L741.93 101.12L744.48 114.79L747.02 118.7" stroke="#0404e0" stroke-width="1.5" fill="none" stroke-linejoin="round"/>
<g fill="#0404e0"><circle cx="464.81" cy="100.47" r="2.25"/><circle cx="467.35" cy="93.96" r="2.25"/><circle cx="469.89" cy="106.33" r="2.25"/><circle cx="472.44" cy="132.37" r="2.25"/><circle cx="474.98" cy="142.78" r="2.25"/><circle cx="477.52" cy="157.11" r="2.25"/><circle cx="480.06" cy="163.62" r="2.25"/><circle cx="482.61" cy="168.82" r="2.25"/><circle cx="485.15" cy="174.03" r="2.25"/><circle cx="487.69" cy="175.01" r="2.25"/><circle cx="490.23" cy="153.85" r="2.25"/><circle cx="492.78" cy="131.72" r="2.25"/><circle cx="495.32" cy="117.4" r="2.25"/><circle cx="497.86" cy="109.26" r="2.25"/><circle cx="500.4" cy="127.16" r="2.25"/><circle cx="513.12" cy="166.87" r="2.25"/><circle cx="528.37" cy="108.93" r="2.25"/><circle cx="530.91" cy="108.93" r="2.25"/><circle cx="533.45" cy="130.42" r="2.25"/><circle cx="536" cy="141.48" r="2.25"/><circle cx="538.54" cy="152.55" r="2.25"/><circle cx="541.08" cy="162.31" r="2.25"/><circle cx="543.62" cy="170.13" r="2.25"/><circle cx="546.17" cy="169.48" r="2.25"/><circle cx="548.71" cy="168.82" r="2.25"/><circle cx="551.25" cy="156.46" r="2.25"/><circle cx="553.79" cy="123.91" r="2.25"/><circle cx="556.34" cy="117.4" r="2.25"/><circle cx="558.88" cy="111.21" r="2.25"/><circle cx="561.42" cy="123.91" r="2.25"/><circle cx="563.96" cy="137.58" r="2.25"/><circle cx="566.51" cy="146.04" r="2.25"/><circle cx="569.05" cy="153.85" r="2.25"/><circle cx="571.59" cy="161.01" r="2.25"/><circle cx="574.13" cy="165.57" r="2.25"/><circle cx="576.68" cy="171.43" r="2.25"/><circle cx="579.22" cy="168.82" r="2.25"/><circle cx="581.76" cy="152.55" r="2.25"/><circle cx="584.3" cy="127.81" r="2.25"/><circle cx="586.85" cy="106.33" r="2.25"/><circle cx="589.39" cy="95.26" r="2.25"/><circle cx="591.93" cy="106.33" r="2.25"/><circle cx="594.47" cy="134.97" r="2.25"/><circle cx="597.02" cy="147.34" r="2.25"/><circle cx="599.56" cy="157.76" r="2.25"/><circle cx="602.1" cy="167.52" r="2.25"/><circle cx="604.64" cy="174.03" r="2.25"/><circle cx="607.18" cy="177.29" r="2.25"/><circle cx="609.73" cy="177.94" r="2.25"/><circle cx="612.27" cy="161.01" r="2.25"/><circle cx="614.81" cy="128.79" r="2.25"/><circle cx="617.35" cy="112.51" r="2.25"/><circle cx="619.9" cy="113.49" r="2.25"/><circle cx="622.44" cy="125.21" r="2.25"/><circle cx="624.98" cy="140.18" r="2.25"/><circle cx="627.52" cy="152.55" r="2.25"/><circle cx="630.07" cy="161.01" r="2.25"/><circle cx="632.61" cy="168.17" r="2.25"/><circle cx="635.15" cy="172.73" r="2.25"/><circle cx="637.69" cy="175.01" r="2.25"/><circle cx="640.24" cy="174.03" r="2.25"/><circle cx="642.78" cy="155.15" r="2.25"/><circle cx="645.32" cy="134.97" r="2.25"/><circle cx="647.86" cy="119.35" r="2.25"/><circle cx="650.41" cy="103.72" r="2.25"/><circle cx="652.95" cy="116.09" r="2.25"/><circle cx="655.49" cy="131.07" r="2.25"/><circle cx="658.03" cy="144.74" r="2.25"/><circle cx="660.58" cy="155.15" r="2.25"/><circle cx="663.12" cy="163.62" r="2.25"/><circle cx="665.66" cy="171.43" r="2.25"/><circle cx="668.2" cy="175.33" r="2.25"/><circle cx="670.75" cy="169.48" r="2.25"/><circle cx="673.29" cy="153.85" r="2.25"/><circle cx="675.83" cy="107.63" r="2.25"/><circle cx="678.37" cy="93.96" r="2.25"/><circle cx="680.92" cy="88.75" r="2.25"/><circle cx="683.46" cy="98.52" r="2.25"/><circle cx="686" cy="118.7" r="2.25"/><circle cx="688.54" cy="132.37" r="2.25"/><circle cx="691.08" cy="149.95" r="2.25"/><circle cx="693.63" cy="161.01" r="2.25"/><circle cx="696.17" cy="167.52" r="2.25"/><circle cx="698.71" cy="168.82" r="2.25"/><circle cx="701.25" cy="164.92" r="2.25"/><circle cx="703.8" cy="152.55" r="2.25"/><circle cx="706.34" cy="110.23" r="2.25"/><circle cx="708.88" cy="102.42" r="2.25"/><circle cx="711.42" cy="99.82" r="2.25"/><circle cx="713.97" cy="120" r="2.25"/><circle cx="716.51" cy="141.48" r="2.25"/><circle cx="719.05" cy="149.95" r="2.25"/><circle cx="721.59" cy="159.71" r="2.25"/><circle cx="724.14" cy="170.13" r="2.25"/><circle cx="726.68" cy="175.01" r="2.25"/><circle cx="729.22" cy="176.31" r="2.25"/><circle cx="731.76" cy="171.43" r="2.25"/><circle cx="734.31" cy="153.85" r="2.25"/><circle cx="736.85" cy="122.6" r="2.25"/><circle cx="739.39" cy="108.93" r="2.25"/><circle cx="741.93" cy="101.12" r="2.25"/><circle cx="744.48" cy="114.79" r="2.25"/><circle cx="747.02" cy="118.7" r="2.25"/></g>
<path d="M449.55 185.9v-2M449.55 22.1v2M464.81 185.9v-2M464.81 22.1v2M480.06 185.9v-2M480.06 22.1v2M495.32 185.9v-4M495.32 22.1v4M510.57 185.9v-2M510.57 22.1v2M525.83 185.9v-2M525.83 22.1v2M541.08 185.9v-2M541.08 22.1v2M556.34 185.9v-4M556.34 22.1v4M571.59 185.9v-2M571.59 22.1v2M586.85 185.9v-2M586.85 22.1v2M602.1 185.9v-2M602.1 22.1v2M617.35 185.9v-4M617.35 22.1v4M632.61 185.9v-2M632.61 22.1v2M647.86 185.9v-2M647.86 22.1v2M663.12 185.9v-2M663.12 22.1v2M678.37 185.9v-4M678.37 22.1v4M693.63 185.9v-2M693.63 22.1v2M708.88 185.9v-2M708.88 22.1v2M724.14 185.9v-2M724.14 22.1v2M739.39 185.9v-4M739.39 22.1v4M754.65 185.9v-2M754.65 22.1v2M434.3 179.35h3.3M769.9 179.35h-3.3M434.3 172.8h3.3M769.9 172.8h-3.3M434.3 166.24h3.3M769.9 166.24h-3.3M434.3 159.69h3.3M769.9 159.69h-3.3M434.3 153.14h7M769.9 153.14h-7M434.3 146.59h3.3M769.9 146.59h-3.3M434.3 140.04h3.3M769.9 140.04h-3.3M434.3 133.48h3.3M769.9 133.48h-3.3M434.3 126.93h3.3M769.9 126.93h-3.3M434.3 120.38h7M769.9 120.38h-7M434.3 113.83h3.3M769.9 113.83h-3.3M434.3 107.28h3.3M769.9 107.28h-3.3M434.3 100.72h3.3M769.9 100.72h-3.3M434.3 94.17h3.3M769.9 94.17h-3.3M434.3 87.62h7M769.9 87.62h-7M434.3 81.07h3.3M769.9 81.07h-3.3M434.3 74.52h3.3M769.9 74.52h-3.3M434.3 67.96h3.3M769.9 67.96h-3.3M434.3 61.41h3.3M769.9 61.41h-3.3M434.3 54.86h7M769.9 54.86h-7M434.3 48.31h3.3M769.9 48.31h-3.3M434.3 41.76h3.3M769.9 41.76h-3.3M434.3 35.2h3.3M769.9 35.2h-3.3M434.3 28.65h3.3M769.9 28.65h-3.3" stroke="#000" stroke-width="1.2" fill="none"/>
<rect x="434.3" y="22.1" width="335.6" height="163.8" fill="none" stroke="#000" stroke-width="1.7"/>
<text transform="translate(433.7,201.5) scale(1,0.96)" font-size="12.0" text-anchor="middle" stroke="#fff" stroke-width="0.12">2002</text>
<text transform="translate(494.72,201.5) scale(1,0.96)" font-size="12.0" text-anchor="middle" stroke="#fff" stroke-width="0.12">2004</text>
<text transform="translate(555.74,201.5) scale(1,0.96)" font-size="12.0" text-anchor="middle" stroke="#fff" stroke-width="0.12">2006</text>
<text transform="translate(616.75,201.5) scale(1,0.96)" font-size="12.0" text-anchor="middle" stroke="#fff" stroke-width="0.12">2008</text>
<text transform="translate(677.77,201.5) scale(1,0.96)" font-size="12.0" text-anchor="middle" stroke="#fff" stroke-width="0.12">2010</text>
<text transform="translate(738.79,201.5) scale(1,0.96)" font-size="12.0" text-anchor="middle" stroke="#fff" stroke-width="0.12">2012</text>
<text transform="translate(430.8,186.3) scale(1,0.96)" font-size="12.0" text-anchor="end" stroke="#fff" stroke-width="0.12">2.5</text>
<text transform="translate(430.8,156.99) scale(1,0.96)" font-size="12.0" text-anchor="end" stroke="#fff" stroke-width="0.12">3.0</text>
<text transform="translate(430.8,124.23) scale(1,0.96)" font-size="12.0" text-anchor="end" stroke="#fff" stroke-width="0.12">3.5</text>
<text transform="translate(430.8,91.47) scale(1,0.96)" font-size="12.0" text-anchor="end" stroke="#fff" stroke-width="0.12">4.0</text>
<text transform="translate(430.8,58.71) scale(1,0.96)" font-size="12.0" text-anchor="end" stroke="#fff" stroke-width="0.12">4.5</text>
<text transform="translate(430.8,29.05) scale(1,0.96)" font-size="12.0" text-anchor="end" stroke="#fff" stroke-width="0.12">5.0</text>
<text transform="translate(437.6,38) scale(1,1)" font-size="14.6" text-anchor="start" stroke="#fff" stroke-width="0.12">(b)</text>
<g stroke="#dadada" stroke-width="1"><line x1="105.05" y1="210" x2="105.05" y2="373.7"/><line x1="165.99" y1="210" x2="165.99" y2="373.7"/><line x1="226.94" y1="210" x2="226.94" y2="373.7"/><line x1="287.88" y1="210" x2="287.88" y2="373.7"/><line x1="348.83" y1="210" x2="348.83" y2="373.7"/><line x1="44.1" y1="319.13" x2="379.3" y2="319.13"/><line x1="44.1" y1="264.57" x2="379.3" y2="264.57"/></g>
<line x1="127.66" y1="210" x2="127.66" y2="373.7" stroke="#f0a92c" stroke-width="2"/>
<path d="M74.57 280.57L77.11 306.27L79.65 326.22L82.19 336.34L84.73 328L87.27 362.58L89.81 358.75L92.35 357.52L94.89 346.18L97.43 338.8L99.97 310.64L102.51 310.09L105.05 310.09L107.58 316.24L110.12 334.97M138.06 305.45L140.6 301.35L143.14 338.8L145.68 349.46L148.22 348.91L150.75 345.08L153.29 341.26L155.83 333.74L158.37 326.22L160.91 306.27L163.45 305.04L165.99 302.44L168.53 324.99L171.07 342.49L173.61 337.43L176.15 348.91L178.69 352.46L181.23 356.29L183.77 352.46L186.31 338.8L188.85 334.97L191.38 323.76L193.92 270.46L196.46 297.52L199 298.75L201.54 316.24L204.08 328.68L206.62 340.03L209.16 346.18L211.7 347.54L214.24 350L216.78 353.28L219.32 331.14L221.86 305.04L224.4 298.75L226.94 284.54L229.48 311.19L232.02 329.5L234.55 351.23L237.09 351.64L239.63 354.24L242.17 354.92L244.71 351.23L247.25 348.09L249.79 329.5L252.33 311.19L254.87 287L257.41 265.54L259.95 280.85L262.49 341.26L265.03 349.18L267.57 345.08L270.11 342.49L272.65 345.49L275.18 350L277.72 350L280.26 330.73L282.8 301.35L285.34 265.81L287.88 257.47L290.42 283.03L292.96 324.99L295.5 338.8L298.04 339.48L300.58 341.26L303.12 347L305.66 350L308.2 350.82L310.74 337.43L313.28 317.47L315.82 290L318.35 281.94L320.89 286.31L323.43 315.01L325.97 274.56L328.51 342.49L331.05 345.49L333.59 351.23L336.13 351.23L338.67 351.23L341.21 340.03L343.75 310.78L346.29 284.95L348.83 265.54L351.37 301.35L353.91 307.5L356.45 336.75" stroke="#f20404" stroke-width="1.5" fill="none" stroke-linejoin="round"/>
<g fill="#f20404"><circle cx="74.57" cy="280.57" r="2.25"/><circle cx="77.11" cy="306.27" r="2.25"/><circle cx="79.65" cy="326.22" r="2.25"/><circle cx="82.19" cy="336.34" r="2.25"/><circle cx="84.73" cy="328" r="2.25"/><circle cx="87.27" cy="362.58" r="2.25"/><circle cx="89.81" cy="358.75" r="2.25"/><circle cx="92.35" cy="357.52" r="2.25"/><circle cx="94.89" cy="346.18" r="2.25"/><circle cx="97.43" cy="338.8" r="2.25"/><circle cx="99.97" cy="310.64" r="2.25"/><circle cx="102.51" cy="310.09" r="2.25"/><circle cx="105.05" cy="310.09" r="2.25"/><circle cx="107.58" cy="316.24" r="2.25"/><circle cx="110.12" cy="334.97" r="2.25"/><circle cx="122.82" cy="318.02" r="2.25"/><circle cx="138.06" cy="305.45" r="2.25"/><circle cx="140.6" cy="301.35" r="2.25"/><circle cx="143.14" cy="338.8" r="2.25"/><circle cx="145.68" cy="349.46" r="2.25"/><circle cx="148.22" cy="348.91" r="2.25"/><circle cx="150.75" cy="345.08" r="2.25"/><circle cx="153.29" cy="341.26" r="2.25"/><circle cx="155.83" cy="333.74" r="2.25"/><circle cx="158.37" cy="326.22" r="2.25"/><circle cx="160.91" cy="306.27" r="2.25"/><circle cx="163.45" cy="305.04" r="2.25"/><circle cx="165.99" cy="302.44" r="2.25"/><circle cx="168.53" cy="324.99" r="2.25"/><circle cx="171.07" cy="342.49" r="2.25"/><circle cx="173.61" cy="337.43" r="2.25"/><circle cx="176.15" cy="348.91" r="2.25"/><circle cx="178.69" cy="352.46" r="2.25"/><circle cx="181.23" cy="356.29" r="2.25"/><circle cx="183.77" cy="352.46" r="2.25"/><circle cx="186.31" cy="338.8" r="2.25"/><circle cx="188.85" cy="334.97" r="2.25"/><circle cx="191.38" cy="323.76" r="2.25"/><circle cx="193.92" cy="270.46" r="2.25"/><circle cx="196.46" cy="297.52" r="2.25"/><circle cx="199" cy="298.75" r="2.25"/><circle cx="201.54" cy="316.24" r="2.25"/><circle cx="204.08" cy="328.68" r="2.25"/><circle cx="206.62" cy="340.03" r="2.25"/><circle cx="209.16" cy="346.18" r="2.25"/><circle cx="211.7" cy="347.54" r="2.25"/><circle cx="214.24" cy="350" r="2.25"/><circle cx="216.78" cy="353.28" r="2.25"/><circle cx="219.32" cy="331.14" r="2.25"/><circle cx="221.86" cy="305.04" r="2.25"/><circle cx="224.4" cy="298.75" r="2.25"/><circle cx="226.94" cy="284.54" r="2.25"/><circle cx="229.48" cy="311.19" r="2.25"/><circle cx="232.02" cy="329.5" r="2.25"/><circle cx="234.55" cy="351.23" r="2.25"/><circle cx="237.09" cy="351.64" r="2.25"/><circle cx="239.63" cy="354.24" r="2.25"/><circle cx="242.17" cy="354.92" r="2.25"/><circle cx="244.71" cy="351.23" r="2.25"/><circle cx="247.25" cy="348.09" r="2.25"/><circle cx="249.79" cy="329.5" r="2.25"/><circle cx="252.33" cy="311.19" r="2.25"/><circle cx="254.87" cy="287" r="2.25"/><circle cx="257.41" cy="265.54" r="2.25"/><circle cx="259.95" cy="280.85" r="2.25"/><circle cx="262.49" cy="341.26" r="2.25"/><circle cx="265.03" cy="349.18" r="2.25"/><circle cx="267.57" cy="345.08" r="2.25"/><circle cx="270.11" cy="342.49" r="2.25"/><circle cx="272.65" cy="345.49" r="2.25"/><circle cx="275.18" cy="350" r="2.25"/><circle cx="277.72" cy="350" r="2.25"/><circle cx="280.26" cy="330.73" r="2.25"/><circle cx="282.8" cy="301.35" r="2.25"/><circle cx="285.34" cy="265.81" r="2.25"/><circle cx="287.88" cy="257.47" r="2.25"/><circle cx="290.42" cy="283.03" r="2.25"/><circle cx="292.96" cy="324.99" r="2.25"/><circle cx="295.5" cy="338.8" r="2.25"/><circle cx="298.04" cy="339.48" r="2.25"/><circle cx="300.58" cy="341.26" r="2.25"/><circle cx="303.12" cy="347" r="2.25"/><circle cx="305.66" cy="350" r="2.25"/><circle cx="308.2" cy="350.82" r="2.25"/><circle cx="310.74" cy="337.43" r="2.25"/><circle cx="313.28" cy="317.47" r="2.25"/><circle cx="315.82" cy="290" r="2.25"/><circle cx="318.35" cy="281.94" r="2.25"/><circle cx="320.89" cy="286.31" r="2.25"/><circle cx="323.43" cy="315.01" r="2.25"/><circle cx="325.97" cy="274.56" r="2.25"/><circle cx="328.51" cy="342.49" r="2.25"/><circle cx="331.05" cy="345.49" r="2.25"/><circle cx="333.59" cy="351.23" r="2.25"/><circle cx="336.13" cy="351.23" r="2.25"/><circle cx="338.67" cy="351.23" r="2.25"/><circle cx="341.21" cy="340.03" r="2.25"/><circle cx="343.75" cy="310.78" r="2.25"/><circle cx="346.29" cy="284.95" r="2.25"/><circle cx="348.83" cy="265.54" r="2.25"/><circle cx="351.37" cy="301.35" r="2.25"/><circle cx="353.91" cy="307.5" r="2.25"/><circle cx="356.45" cy="336.75" r="2.25"/></g>
<path d="M74.57 296.15L77.11 316.93L79.65 329.5L82.19 339.89L84.73 331.14L87.27 363.12L89.81 360.12L92.35 360.12L94.89 350L97.43 335.52L99.97 307.5L102.51 307.5L105.05 301.76L107.58 318.84L110.12 339.34M138.06 308.73L140.6 313.65L143.14 336.75L145.68 342.49L148.22 336.75L150.75 341.26L153.29 345.08L155.83 333.74L158.37 323.76L160.91 297.52L163.45 307.5L165.99 297.52L168.53 309.55L171.07 345.49L173.61 341.26L176.15 329.23L178.69 346.18L181.23 356.97L183.77 351.23L186.31 340.03L188.85 337.43L191.38 324.99L193.92 286.31L196.46 305.04L199 299.98L201.54 322.94L204.08 333.06L206.62 334.42L209.16 331.96L211.7 340.03L214.24 345.08L216.78 348.91L219.32 328.68L221.86 311.73L224.4 290.69L226.94 296.15L229.48 310.5L232.02 323.76L234.55 347L237.09 330.6L239.63 333.06L242.17 338.8L244.71 336.34L247.25 336.34L249.79 333.06L252.33 313.78L254.87 292.46L257.41 277.57L259.95 290L262.49 345.08L265.03 344.54L267.57 323.76L270.11 330.6L272.65 336.34L275.18 345.49L277.72 346.18L280.26 334.42L282.8 302.44L285.34 281.26L287.88 269.5L290.42 287.68L292.96 330.05L295.5 337.43L298.04 323.76L300.58 324.99L303.12 337.43L305.66 344.54L308.2 346.18L310.74 337.43L313.28 315.01L315.82 289.32L318.35 274.97L320.89 297.52L323.43 318.7L325.97 311.19L328.51 329.5L331.05 330.6L333.59 337.43L336.13 343.72L338.67 342.49L341.21 339.48L343.75 318.02L346.29 261.98L348.83 236.84L351.37 296.97L353.91 318.7L356.45 326.22" stroke="#0404e0" stroke-width="1.5" fill="none" stroke-linejoin="round"/>
<g fill="#0404e0"><circle cx="74.57" cy="296.15" r="2.25"/><circle cx="77.11" cy="316.93" r="2.25"/><circle cx="79.65" cy="329.5" r="2.25"/><circle cx="82.19" cy="339.89" r="2.25"/><circle cx="84.73" cy="331.14" r="2.25"/><circle cx="87.27" cy="363.12" r="2.25"/><circle cx="89.81" cy="360.12" r="2.25"/><circle cx="92.35" cy="360.12" r="2.25"/><circle cx="94.89" cy="350" r="2.25"/><circle cx="97.43" cy="335.52" r="2.25"/><circle cx="99.97" cy="307.5" r="2.25"/><circle cx="102.51" cy="307.5" r="2.25"/><circle cx="105.05" cy="301.76" r="2.25"/><circle cx="107.58" cy="318.84" r="2.25"/><circle cx="110.12" cy="339.34" r="2.25"/><circle cx="122.82" cy="308.18" r="2.25"/><circle cx="138.06" cy="308.73" r="2.25"/><circle cx="140.6" cy="313.65" r="2.25"/><circle cx="143.14" cy="336.75" r="2.25"/><circle cx="145.68" cy="342.49" r="2.25"/><circle cx="148.22" cy="336.75" r="2.25"/><circle cx="150.75" cy="341.26" r="2.25"/><circle cx="153.29" cy="345.08" r="2.25"/><circle cx="155.83" cy="333.74" r="2.25"/><circle cx="158.37" cy="323.76" r="2.25"/><circle cx="160.91" cy="297.52" r="2.25"/><circle cx="163.45" cy="307.5" r="2.25"/><circle cx="165.99" cy="297.52" r="2.25"/><circle cx="168.53" cy="309.55" r="2.25"/><circle cx="171.07" cy="345.49" r="2.25"/><circle cx="173.61" cy="341.26" r="2.25"/><circle cx="176.15" cy="329.23" r="2.25"/><circle cx="178.69" cy="346.18" r="2.25"/><circle cx="181.23" cy="356.97" r="2.25"/><circle cx="183.77" cy="351.23" r="2.25"/><circle cx="186.31" cy="340.03" r="2.25"/><circle cx="188.85" cy="337.43" r="2.25"/><circle cx="191.38" cy="324.99" r="2.25"/><circle cx="193.92" cy="286.31" r="2.25"/><circle cx="196.46" cy="305.04" r="2.25"/><circle cx="199" cy="299.98" r="2.25"/><circle cx="201.54" cy="322.94" r="2.25"/><circle cx="204.08" cy="333.06" r="2.25"/><circle cx="206.62" cy="334.42" r="2.25"/><circle cx="209.16" cy="331.96" r="2.25"/><circle cx="211.7" cy="340.03" r="2.25"/><circle cx="214.24" cy="345.08" r="2.25"/><circle cx="216.78" cy="348.91" r="2.25"/><circle cx="219.32" cy="328.68" r="2.25"/><circle cx="221.86" cy="311.73" r="2.25"/><circle cx="224.4" cy="290.69" r="2.25"/><circle cx="226.94" cy="296.15" r="2.25"/><circle cx="229.48" cy="310.5" r="2.25"/><circle cx="232.02" cy="323.76" r="2.25"/><circle cx="234.55" cy="347" r="2.25"/><circle cx="237.09" cy="330.6" r="2.25"/><circle cx="239.63" cy="333.06" r="2.25"/><circle cx="242.17" cy="338.8" r="2.25"/><circle cx="244.71" cy="336.34" r="2.25"/><circle cx="247.25" cy="336.34" r="2.25"/><circle cx="249.79" cy="333.06" r="2.25"/><circle cx="252.33" cy="313.78" r="2.25"/><circle cx="254.87" cy="292.46" r="2.25"/><circle cx="257.41" cy="277.57" r="2.25"/><circle cx="259.95" cy="290" r="2.25"/><circle cx="262.49" cy="345.08" r="2.25"/><circle cx="265.03" cy="344.54" r="2.25"/><circle cx="267.57" cy="323.76" r="2.25"/><circle cx="270.11" cy="330.6" r="2.25"/><circle cx="272.65" cy="336.34" r="2.25"/><circle cx="275.18" cy="345.49" r="2.25"/><circle cx="277.72" cy="346.18" r="2.25"/><circle cx="280.26" cy="334.42" r="2.25"/><circle cx="282.8" cy="302.44" r="2.25"/><circle cx="285.34" cy="281.26" r="2.25"/><circle cx="287.88" cy="269.5" r="2.25"/><circle cx="290.42" cy="287.68" r="2.25"/><circle cx="292.96" cy="330.05" r="2.25"/><circle cx="295.5" cy="337.43" r="2.25"/><circle cx="298.04" cy="323.76" r="2.25"/><circle cx="300.58" cy="324.99" r="2.25"/><circle cx="303.12" cy="337.43" r="2.25"/><circle cx="305.66" cy="344.54" r="2.25"/><circle cx="308.2" cy="346.18" r="2.25"/><circle cx="310.74" cy="337.43" r="2.25"/><circle cx="313.28" cy="315.01" r="2.25"/><circle cx="315.82" cy="289.32" r="2.25"/><circle cx="318.35" cy="274.97" r="2.25"/><circle cx="320.89" cy="297.52" r="2.25"/><circle cx="323.43" cy="318.7" r="2.25"/><circle cx="325.97" cy="311.19" r="2.25"/><circle cx="328.51" cy="329.5" r="2.25"/><circle cx="331.05" cy="330.6" r="2.25"/><circle cx="333.59" cy="337.43" r="2.25"/><circle cx="336.13" cy="343.72" r="2.25"/><circle cx="338.67" cy="342.49" r="2.25"/><circle cx="341.21" cy="339.48" r="2.25"/><circle cx="343.75" cy="318.02" r="2.25"/><circle cx="346.29" cy="261.98" r="2.25"/><circle cx="348.83" cy="236.84" r="2.25"/><circle cx="351.37" cy="296.97" r="2.25"/><circle cx="353.91" cy="318.7" r="2.25"/><circle cx="356.45" cy="326.22" r="2.25"/></g>
<path d="M59.34 373.7v-2M59.34 210v2M74.57 373.7v-2M74.57 210v2M89.81 373.7v-2M89.81 210v2M105.05 373.7v-4M105.05 210v4M120.28 373.7v-2M120.28 210v2M135.52 373.7v-2M135.52 210v2M150.75 373.7v-2M150.75 210v2M165.99 373.7v-4M165.99 210v4M181.23 373.7v-2M181.23 210v2M196.46 373.7v-2M196.46 210v2M211.7 373.7v-2M211.7 210v2M226.94 373.7v-4M226.94 210v4M242.17 373.7v-2M242.17 210v2M257.41 373.7v-2M257.41 210v2M272.65 373.7v-2M272.65 210v2M287.88 373.7v-4M287.88 210v4M303.12 373.7v-2M303.12 210v2M318.35 373.7v-2M318.35 210v2M333.59 373.7v-2M333.59 210v2M348.83 373.7v-4M348.83 210v4M364.06 373.7v-2M364.06 210v2M44.1 360.06h3.3M379.3 360.06h-3.3M44.1 346.42h3.3M379.3 346.42h-3.3M44.1 332.77h3.3M379.3 332.77h-3.3M44.1 319.13h7M379.3 319.13h-7M44.1 305.49h3.3M379.3 305.49h-3.3M44.1 291.85h3.3M379.3 291.85h-3.3M44.1 278.21h3.3M379.3 278.21h-3.3M44.1 264.57h7M379.3 264.57h-7M44.1 250.93h3.3M379.3 250.93h-3.3M44.1 237.28h3.3M379.3 237.28h-3.3M44.1 223.64h3.3M379.3 223.64h-3.3" stroke="#000" stroke-width="1.2" fill="none"/>
<rect x="44.1" y="210" width="335.2" height="163.7" fill="none" stroke="#000" stroke-width="1.7"/>
<text transform="translate(43.5,389.3) scale(1,0.96)" font-size="12.0" text-anchor="middle" stroke="#fff" stroke-width="0.12">2002</text>
<text transform="translate(104.45,389.3) scale(1,0.96)" font-size="12.0" text-anchor="middle" stroke="#fff" stroke-width="0.12">2004</text>
<text transform="translate(165.39,389.3) scale(1,0.96)" font-size="12.0" text-anchor="middle" stroke="#fff" stroke-width="0.12">2006</text>
<text transform="translate(226.34,389.3) scale(1,0.96)" font-size="12.0" text-anchor="middle" stroke="#fff" stroke-width="0.12">2008</text>
<text transform="translate(287.28,389.3) scale(1,0.96)" font-size="12.0" text-anchor="middle" stroke="#fff" stroke-width="0.12">2010</text>
<text transform="translate(348.23,389.3) scale(1,0.96)" font-size="12.0" text-anchor="middle" stroke="#fff" stroke-width="0.12">2012</text>
<text transform="translate(40.6,374.1) scale(1,0.96)" font-size="12.0" text-anchor="end" stroke="#fff" stroke-width="0.12">0.2</text>
<text transform="translate(40.6,322.98) scale(1,0.96)" font-size="12.0" text-anchor="end" stroke="#fff" stroke-width="0.12">0.4</text>
<text transform="translate(40.6,268.42) scale(1,0.96)" font-size="12.0" text-anchor="end" stroke="#fff" stroke-width="0.12">0.6</text>
<text transform="translate(40.6,216.95) scale(1,0.96)" font-size="12.0" text-anchor="end" stroke="#fff" stroke-width="0.12">0.8</text>
<text transform="translate(47,227.1) scale(1,1)" font-size="14.6" text-anchor="start" stroke="#fff" stroke-width="0.12">(c)</text>
<g stroke="#dadada" stroke-width="1"><line x1="495.32" y1="210" x2="495.32" y2="373.7"/><line x1="556.34" y1="210" x2="556.34" y2="373.7"/><line x1="617.35" y1="210" x2="617.35" y2="373.7"/><line x1="678.37" y1="210" x2="678.37" y2="373.7"/><line x1="739.39" y1="210" x2="739.39" y2="373.7"/><line x1="434.3" y1="346.42" x2="769.9" y2="346.42"/><line x1="434.3" y1="319.13" x2="769.9" y2="319.13"/><line x1="434.3" y1="291.85" x2="769.9" y2="291.85"/><line x1="434.3" y1="264.57" x2="769.9" y2="264.57"/><line x1="434.3" y1="237.28" x2="769.9" y2="237.28"/></g>
<line x1="517.96" y1="210" x2="517.96" y2="373.7" stroke="#f0a92c" stroke-width="2"/>
<path d="M464.81 254.33L467.35 272.51L469.89 289.59L472.44 297.52L474.98 303.81L477.52 319.52L480.06 328.68L482.61 328.68L485.15 313.78L487.69 306.27L490.23 302.99L492.78 290L495.32 256.24L497.86 268.82L500.4 270.05M528.37 321.3L530.91 324.58L533.45 335.79L536 343.17L538.54 350.82L541.08 352.46L543.62 351.92L546.17 353.83L548.71 354.51L551.25 335.79L553.79 316.24L556.34 301.35L558.88 307.91L561.42 323.76L563.96 343.72L566.51 347L569.05 353.01L571.59 350.55L574.13 357.52L576.68 351.23L579.22 348.77L581.76 337.02L584.3 311.73L586.85 307.36L589.39 306.81L591.93 331.28L594.47 342.49L597.02 343.72L599.56 350.82L602.1 348.77L604.64 349.73L607.18 352.46L609.73 349.73L612.27 339.21L614.81 319.52L617.35 311.19L619.9 312.28L622.44 326.5L624.98 341.26L627.52 347.54L630.07 348.77L632.61 347L635.15 348.77L637.69 350L640.24 349.46L642.78 332.51L645.32 315.01L647.86 306.27L650.41 314.47L652.95 318.84L655.49 335.79L658.03 347L660.58 346.18L663.12 346.72L665.66 347.54L668.2 350.55L670.75 349.18L673.29 333.74L675.83 317.47L678.37 296.29L680.92 301.76L683.46 319.93L686 338.8L688.54 347L691.08 348.77L693.63 347.54L696.17 351.64L698.71 350.82L701.25 347.54L703.8 330.05L706.34 318.29L708.88 309.55L711.42 313.78L713.97 324.31L716.51 311.73L719.05 340.71L721.59 344.54L724.14 345.08L726.68 349.18L729.22 347L731.76 345.49L734.31 337.02L736.85 316.79L739.39 306.81L741.93 316.93L744.48 321.98L747.02 337.98" stroke="#f20404" stroke-width="1.5" fill="none" stroke-linejoin="round"/>
<g fill="#f20404"><circle cx="464.81" cy="254.33" r="2.25"/><circle cx="467.35" cy="272.51" r="2.25"/><circle cx="469.89" cy="289.59" r="2.25"/><circle cx="472.44" cy="297.52" r="2.25"/><circle cx="474.98" cy="303.81" r="2.25"/><circle cx="477.52" cy="319.52" r="2.25"/><circle cx="480.06" cy="328.68" r="2.25"/><circle cx="482.61" cy="328.68" r="2.25"/><circle cx="485.15" cy="313.78" r="2.25"/><circle cx="487.69" cy="306.27" r="2.25"/><circle cx="490.23" cy="302.99" r="2.25"/><circle cx="492.78" cy="290" r="2.25"/><circle cx="495.32" cy="256.24" r="2.25"/><circle cx="497.86" cy="268.82" r="2.25"/><circle cx="500.4" cy="270.05" r="2.25"/><circle cx="513.12" cy="320.75" r="2.25"/><circle cx="528.37" cy="321.3" r="2.25"/><circle cx="530.91" cy="324.58" r="2.25"/><circle cx="533.45" cy="335.79" r="2.25"/><circle cx="536" cy="343.17" r="2.25"/><circle cx="538.54" cy="350.82" r="2.25"/><circle cx="541.08" cy="352.46" r="2.25"/><circle cx="543.62" cy="351.92" r="2.25"/><circle cx="546.17" cy="353.83" r="2.25"/><circle cx="548.71" cy="354.51" r="2.25"/><circle cx="551.25" cy="335.79" r="2.25"/><circle cx="553.79" cy="316.24" r="2.25"/><circle cx="556.34" cy="301.35" r="2.25"/><circle cx="558.88" cy="307.91" r="2.25"/><circle cx="561.42" cy="323.76" r="2.25"/><circle cx="563.96" cy="343.72" r="2.25"/><circle cx="566.51" cy="347" r="2.25"/><circle cx="569.05" cy="353.01" r="2.25"/><circle cx="571.59" cy="350.55" r="2.25"/><circle cx="574.13" cy="357.52" r="2.25"/><circle cx="576.68" cy="351.23" r="2.25"/><circle cx="579.22" cy="348.77" r="2.25"/><circle cx="581.76" cy="337.02" r="2.25"/><circle cx="584.3" cy="311.73" r="2.25"/><circle cx="586.85" cy="307.36" r="2.25"/><circle cx="589.39" cy="306.81" r="2.25"/><circle cx="591.93" cy="331.28" r="2.25"/><circle cx="594.47" cy="342.49" r="2.25"/><circle cx="597.02" cy="343.72" r="2.25"/><circle cx="599.56" cy="350.82" r="2.25"/><circle cx="602.1" cy="348.77" r="2.25"/><circle cx="604.64" cy="349.73" r="2.25"/><circle cx="607.18" cy="352.46" r="2.25"/><circle cx="609.73" cy="349.73" r="2.25"/><circle cx="612.27" cy="339.21" r="2.25"/><circle cx="614.81" cy="319.52" r="2.25"/><circle cx="617.35" cy="311.19" r="2.25"/><circle cx="619.9" cy="312.28" r="2.25"/><circle cx="622.44" cy="326.5" r="2.25"/><circle cx="624.98" cy="341.26" r="2.25"/><circle cx="627.52" cy="347.54" r="2.25"/><circle cx="630.07" cy="348.77" r="2.25"/><circle cx="632.61" cy="347" r="2.25"/><circle cx="635.15" cy="348.77" r="2.25"/><circle cx="637.69" cy="350" r="2.25"/><circle cx="640.24" cy="349.46" r="2.25"/><circle cx="642.78" cy="332.51" r="2.25"/><circle cx="645.32" cy="315.01" r="2.25"/><circle cx="647.86" cy="306.27" r="2.25"/><circle cx="650.41" cy="314.47" r="2.25"/><circle cx="652.95" cy="318.84" r="2.25"/><circle cx="655.49" cy="335.79" r="2.25"/><circle cx="658.03" cy="347" r="2.25"/><circle cx="660.58" cy="346.18" r="2.25"/><circle cx="663.12" cy="346.72" r="2.25"/><circle cx="665.66" cy="347.54" r="2.25"/><circle cx="668.2" cy="350.55" r="2.25"/><circle cx="670.75" cy="349.18" r="2.25"/><circle cx="673.29" cy="333.74" r="2.25"/><circle cx="675.83" cy="317.47" r="2.25"/><circle cx="678.37" cy="296.29" r="2.25"/><circle cx="680.92" cy="301.76" r="2.25"/><circle cx="683.46" cy="319.93" r="2.25"/><circle cx="686" cy="338.8" r="2.25"/><circle cx="688.54" cy="347" r="2.25"/><circle cx="691.08" cy="348.77" r="2.25"/><circle cx="693.63" cy="347.54" r="2.25"/><circle cx="696.17" cy="351.64" r="2.25"/><circle cx="698.71" cy="350.82" r="2.25"/><circle cx="701.25" cy="347.54" r="2.25"/><circle cx="703.8" cy="330.05" r="2.25"/><circle cx="706.34" cy="318.29" r="2.25"/><circle cx="708.88" cy="309.55" r="2.25"/><circle cx="711.42" cy="313.78" r="2.25"/><circle cx="713.97" cy="324.31" r="2.25"/><circle cx="716.51" cy="311.73" r="2.25"/><circle cx="719.05" cy="340.71" r="2.25"/><circle cx="721.59" cy="344.54" r="2.25"/><circle cx="724.14" cy="345.08" r="2.25"/><circle cx="726.68" cy="349.18" r="2.25"/><circle cx="729.22" cy="347" r="2.25"/><circle cx="731.76" cy="345.49" r="2.25"/><circle cx="734.31" cy="337.02" r="2.25"/><circle cx="736.85" cy="316.79" r="2.25"/><circle cx="739.39" cy="306.81" r="2.25"/><circle cx="741.93" cy="316.93" r="2.25"/><circle cx="744.48" cy="321.98" r="2.25"/><circle cx="747.02" cy="337.98" r="2.25"/></g>
<path d="M464.81 245.58L467.35 258.7L469.89 280.03L472.44 295.06L474.98 300.53L477.52 315.01L480.06 319.52L482.61 317.47L485.15 302.44L487.69 298.75L490.23 301.35L492.78 292.05L495.32 243.67L497.86 251.32L500.4 254.33M528.37 260.07L530.91 276.2L533.45 272.51L536 302.44L538.54 310.09L541.08 313.1L543.62 315.01L546.17 314.47L548.71 315.01L551.25 303.81L553.79 274.56L556.34 255.7L558.88 264.99L561.42 261.16L563.96 270.46L566.51 298.34L569.05 322.94L571.59 330.46L574.13 326.22L576.68 312.55L579.22 306.27L581.76 298.07L584.3 272.51L586.85 241.21L589.39 245.58L591.93 253.78L594.47 288.77L597.02 295.47L599.56 308.73L602.1 315.83L604.64 311.19L607.18 313.1L609.73 302.44L612.27 292.6L614.81 265.54L617.35 258.7L619.9 262.26L622.44 265.26L624.98 286.31L627.52 298.75L630.07 311.19L632.61 325.54L635.15 319.52L637.69 310.5L640.24 312.01L642.78 294.51L645.32 249.96L647.86 240.53L650.41 248.04L652.95 256.24L655.49 289.46L658.03 292.05L660.58 306.27L663.12 311.19L665.66 301.21L668.2 304.49L670.75 301.21L673.29 290.69L675.83 267.45L678.37 242.03L680.92 220.02L683.46 237.52L686 264.44L688.54 277.57L691.08 299.98L693.63 306.27L696.17 306.95L698.71 311.73L701.25 310.5L703.8 292.6L706.34 277.02L708.88 264.17L711.42 243.26L713.97 256.24L716.51 272.92L719.05 291.23L721.59 290.69L724.14 302.99L726.68 295.47L729.22 297.52L731.76 306.27L734.31 309.55L736.85 283.03L739.39 245.04L741.93 236.29L744.48 257.06L747.02 249.96" stroke="#0404e0" stroke-width="1.5" fill="none" stroke-linejoin="round"/>
<g fill="#0404e0"><circle cx="464.81" cy="245.58" r="2.25"/><circle cx="467.35" cy="258.7" r="2.25"/><circle cx="469.89" cy="280.03" r="2.25"/><circle cx="472.44" cy="295.06" r="2.25"/><circle cx="474.98" cy="300.53" r="2.25"/><circle cx="477.52" cy="315.01" r="2.25"/><circle cx="480.06" cy="319.52" r="2.25"/><circle cx="482.61" cy="317.47" r="2.25"/><circle cx="485.15" cy="302.44" r="2.25"/><circle cx="487.69" cy="298.75" r="2.25"/><circle cx="490.23" cy="301.35" r="2.25"/><circle cx="492.78" cy="292.05" r="2.25"/><circle cx="495.32" cy="243.67" r="2.25"/><circle cx="497.86" cy="251.32" r="2.25"/><circle cx="500.4" cy="254.33" r="2.25"/><circle cx="513.12" cy="311.73" r="2.25"/><circle cx="528.37" cy="260.07" r="2.25"/><circle cx="530.91" cy="276.2" r="2.25"/><circle cx="533.45" cy="272.51" r="2.25"/><circle cx="536" cy="302.44" r="2.25"/><circle cx="538.54" cy="310.09" r="2.25"/><circle cx="541.08" cy="313.1" r="2.25"/><circle cx="543.62" cy="315.01" r="2.25"/><circle cx="546.17" cy="314.47" r="2.25"/><circle cx="548.71" cy="315.01" r="2.25"/><circle cx="551.25" cy="303.81" r="2.25"/><circle cx="553.79" cy="274.56" r="2.25"/><circle cx="556.34" cy="255.7" r="2.25"/><circle cx="558.88" cy="264.99" r="2.25"/><circle cx="561.42" cy="261.16" r="2.25"/><circle cx="563.96" cy="270.46" r="2.25"/><circle cx="566.51" cy="298.34" r="2.25"/><circle cx="569.05" cy="322.94" r="2.25"/><circle cx="571.59" cy="330.46" r="2.25"/><circle cx="574.13" cy="326.22" r="2.25"/><circle cx="576.68" cy="312.55" r="2.25"/><circle cx="579.22" cy="306.27" r="2.25"/><circle cx="581.76" cy="298.07" r="2.25"/><circle cx="584.3" cy="272.51" r="2.25"/><circle cx="586.85" cy="241.21" r="2.25"/><circle cx="589.39" cy="245.58" r="2.25"/><circle cx="591.93" cy="253.78" r="2.25"/><circle cx="594.47" cy="288.77" r="2.25"/><circle cx="597.02" cy="295.47" r="2.25"/><circle cx="599.56" cy="308.73" r="2.25"/><circle cx="602.1" cy="315.83" r="2.25"/><circle cx="604.64" cy="311.19" r="2.25"/><circle cx="607.18" cy="313.1" r="2.25"/><circle cx="609.73" cy="302.44" r="2.25"/><circle cx="612.27" cy="292.6" r="2.25"/><circle cx="614.81" cy="265.54" r="2.25"/><circle cx="617.35" cy="258.7" r="2.25"/><circle cx="619.9" cy="262.26" r="2.25"/><circle cx="622.44" cy="265.26" r="2.25"/><circle cx="624.98" cy="286.31" r="2.25"/><circle cx="627.52" cy="298.75" r="2.25"/><circle cx="630.07" cy="311.19" r="2.25"/><circle cx="632.61" cy="325.54" r="2.25"/><circle cx="635.15" cy="319.52" r="2.25"/><circle cx="637.69" cy="310.5" r="2.25"/><circle cx="640.24" cy="312.01" r="2.25"/><circle cx="642.78" cy="294.51" r="2.25"/><circle cx="645.32" cy="249.96" r="2.25"/><circle cx="647.86" cy="240.53" r="2.25"/><circle cx="650.41" cy="248.04" r="2.25"/><circle cx="652.95" cy="256.24" r="2.25"/><circle cx="655.49" cy="289.46" r="2.25"/><circle cx="658.03" cy="292.05" r="2.25"/><circle cx="660.58" cy="306.27" r="2.25"/><circle cx="663.12" cy="311.19" r="2.25"/><circle cx="665.66" cy="301.21" r="2.25"/><circle cx="668.2" cy="304.49" r="2.25"/><circle cx="670.75" cy="301.21" r="2.25"/><circle cx="673.29" cy="290.69" r="2.25"/><circle cx="675.83" cy="267.45" r="2.25"/><circle cx="678.37" cy="242.03" r="2.25"/><circle cx="680.92" cy="220.02" r="2.25"/><circle cx="683.46" cy="237.52" r="2.25"/><circle cx="686" cy="264.44" r="2.25"/><circle cx="688.54" cy="277.57" r="2.25"/><circle cx="691.08" cy="299.98" r="2.25"/><circle cx="693.63" cy="306.27" r="2.25"/><circle cx="696.17" cy="306.95" r="2.25"/><circle cx="698.71" cy="311.73" r="2.25"/><circle cx="701.25" cy="310.5" r="2.25"/><circle cx="703.8" cy="292.6" r="2.25"/><circle cx="706.34" cy="277.02" r="2.25"/><circle cx="708.88" cy="264.17" r="2.25"/><circle cx="711.42" cy="243.26" r="2.25"/><circle cx="713.97" cy="256.24" r="2.25"/><circle cx="716.51" cy="272.92" r="2.25"/><circle cx="719.05" cy="291.23" r="2.25"/><circle cx="721.59" cy="290.69" r="2.25"/><circle cx="724.14" cy="302.99" r="2.25"/><circle cx="726.68" cy="295.47" r="2.25"/><circle cx="729.22" cy="297.52" r="2.25"/><circle cx="731.76" cy="306.27" r="2.25"/><circle cx="734.31" cy="309.55" r="2.25"/><circle cx="736.85" cy="283.03" r="2.25"/><circle cx="739.39" cy="245.04" r="2.25"/><circle cx="741.93" cy="236.29" r="2.25"/><circle cx="744.48" cy="257.06" r="2.25"/><circle cx="747.02" cy="249.96" r="2.25"/></g>
<path d="M449.55 373.7v-2M449.55 210v2M464.81 373.7v-2M464.81 210v2M480.06 373.7v-2M480.06 210v2M495.32 373.7v-4M495.32 210v4M510.57 373.7v-2M510.57 210v2M525.83 373.7v-2M525.83 210v2M541.08 373.7v-2M541.08 210v2M556.34 373.7v-4M556.34 210v4M571.59 373.7v-2M571.59 210v2M586.85 373.7v-2M586.85 210v2M602.1 373.7v-2M602.1 210v2M617.35 373.7v-4M617.35 210v4M632.61 373.7v-2M632.61 210v2M647.86 373.7v-2M647.86 210v2M663.12 373.7v-2M663.12 210v2M678.37 373.7v-4M678.37 210v4M693.63 373.7v-2M693.63 210v2M708.88 373.7v-2M708.88 210v2M724.14 373.7v-2M724.14 210v2M739.39 373.7v-4M739.39 210v4M754.65 373.7v-2M754.65 210v2M434.3 370.97h3.3M769.9 370.97h-3.3M434.3 368.24h3.3M769.9 368.24h-3.3M434.3 365.51h3.3M769.9 365.51h-3.3M434.3 362.79h3.3M769.9 362.79h-3.3M434.3 360.06h3.3M769.9 360.06h-3.3M434.3 357.33h3.3M769.9 357.33h-3.3M434.3 354.6h3.3M769.9 354.6h-3.3M434.3 351.87h3.3M769.9 351.87h-3.3M434.3 349.14h3.3M769.9 349.14h-3.3M434.3 346.42h7M769.9 346.42h-7M434.3 343.69h3.3M769.9 343.69h-3.3M434.3 340.96h3.3M769.9 340.96h-3.3M434.3 338.23h3.3M769.9 338.23h-3.3M434.3 335.5h3.3M769.9 335.5h-3.3M434.3 332.77h3.3M769.9 332.77h-3.3M434.3 330.05h3.3M769.9 330.05h-3.3M434.3 327.32h3.3M769.9 327.32h-3.3M434.3 324.59h3.3M769.9 324.59h-3.3M434.3 321.86h3.3M769.9 321.86h-3.3M434.3 319.13h7M769.9 319.13h-7M434.3 316.4h3.3M769.9 316.4h-3.3M434.3 313.68h3.3M769.9 313.68h-3.3M434.3 310.95h3.3M769.9 310.95h-3.3M434.3 308.22h3.3M769.9 308.22h-3.3M434.3 305.49h3.3M769.9 305.49h-3.3M434.3 302.76h3.3M769.9 302.76h-3.3M434.3 300.03h3.3M769.9 300.03h-3.3M434.3 297.31h3.3M769.9 297.31h-3.3M434.3 294.58h3.3M769.9 294.58h-3.3M434.3 291.85h7M769.9 291.85h-7M434.3 289.12h3.3M769.9 289.12h-3.3M434.3 286.39h3.3M769.9 286.39h-3.3M434.3 283.66h3.3M769.9 283.66h-3.3M434.3 280.94h3.3M769.9 280.94h-3.3M434.3 278.21h3.3M769.9 278.21h-3.3M434.3 275.48h3.3M769.9 275.48h-3.3M434.3 272.75h3.3M769.9 272.75h-3.3M434.3 270.02h3.3M769.9 270.02h-3.3M434.3 267.29h3.3M769.9 267.29h-3.3M434.3 264.57h7M769.9 264.57h-7M434.3 261.84h3.3M769.9 261.84h-3.3M434.3 259.11h3.3M769.9 259.11h-3.3M434.3 256.38h3.3M769.9 256.38h-3.3M434.3 253.65h3.3M769.9 253.65h-3.3M434.3 250.92h3.3M769.9 250.92h-3.3M434.3 248.2h3.3M769.9 248.2h-3.3M434.3 245.47h3.3M769.9 245.47h-3.3M434.3 242.74h3.3M769.9 242.74h-3.3M434.3 240.01h3.3M769.9 240.01h-3.3M434.3 237.28h7M769.9 237.28h-7M434.3 234.55h3.3M769.9 234.55h-3.3M434.3 231.83h3.3M769.9 231.83h-3.3M434.3 229.1h3.3M769.9 229.1h-3.3M434.3 226.37h3.3M769.9 226.37h-3.3M434.3 223.64h3.3M769.9 223.64h-3.3M434.3 220.91h3.3M769.9 220.91h-3.3M434.3 218.18h3.3M769.9 218.18h-3.3M434.3 215.46h3.3M769.9 215.46h-3.3M434.3 212.73h3.3M769.9 212.73h-3.3" stroke="#000" stroke-width="1.2" fill="none"/>
<rect x="434.3" y="210" width="335.6" height="163.7" fill="none" stroke="#000" stroke-width="1.7"/>
<text transform="translate(433.7,389.3) scale(1,0.96)" font-size="12.0" text-anchor="middle" stroke="#fff" stroke-width="0.12">2002</text>
<text transform="translate(494.72,389.3) scale(1,0.96)" font-size="12.0" text-anchor="middle" stroke="#fff" stroke-width="0.12">2004</text>
<text transform="translate(555.74,389.3) scale(1,0.96)" font-size="12.0" text-anchor="middle" stroke="#fff" stroke-width="0.12">2006</text>
<text transform="translate(616.75,389.3) scale(1,0.96)" font-size="12.0" text-anchor="middle" stroke="#fff" stroke-width="0.12">2008</text>
<text transform="translate(677.77,389.3) scale(1,0.96)" font-size="12.0" text-anchor="middle" stroke="#fff" stroke-width="0.12">2010</text>
<text transform="translate(738.79,389.3) scale(1,0.96)" font-size="12.0" text-anchor="middle" stroke="#fff" stroke-width="0.12">2012</text>
<text transform="translate(430.8,374.1) scale(1,0.96)" font-size="12.0" text-anchor="end" stroke="#fff" stroke-width="0.12">0.1</text>
<text transform="translate(430.8,350.27) scale(1,0.96)" font-size="12.0" text-anchor="end" stroke="#fff" stroke-width="0.12">0.2</text>
<text transform="translate(430.8,322.98) scale(1,0.96)" font-size="12.0" text-anchor="end" stroke="#fff" stroke-width="0.12">0.3</text>
<text transform="translate(430.8,295.7) scale(1,0.96)" font-size="12.0" text-anchor="end" stroke="#fff" stroke-width="0.12">0.4</text>
<text transform="translate(430.8,268.42) scale(1,0.96)" font-size="12.0" text-anchor="end" stroke="#fff" stroke-width="0.12">0.5</text>
<text transform="translate(430.8,241.13) scale(1,0.96)" font-size="12.0" text-anchor="end" stroke="#fff" stroke-width="0.12">0.6</text>
<text transform="translate(430.8,216.95) scale(1,0.96)" font-size="12.0" text-anchor="end" stroke="#fff" stroke-width="0.12">0.7</text>
<text transform="translate(437.6,227.9) scale(1,1)" font-size="14.6" text-anchor="start" stroke="#fff" stroke-width="0.12">(d)</text>
<g stroke="#dadada" stroke-width="1"></g>
<path d="M73.97 430.4V409.77M76.51 430.4V414.55M79.05 430.4V414.55M81.59 430.4V418.58M84.13 430.4V419.58M86.67 430.4V415.31M89.21 430.4V410.78M91.75 430.4V411.54M94.29 430.4V414.55M96.83 430.4V409.77M99.37 430.4V410.28M101.91 430.4V412.29M104.45 430.4V413.29M106.98 430.4V417.32M109.52 430.4V417.32M122.22 430.4V417.82M124.76 430.4V428.64M134.92 430.4V427.89M137.46 430.4V424.11M140 430.4V418.58M142.54 430.4V425.37M145.08 430.4V425.37M147.62 430.4V423.61M150.15 430.4V427.38M152.69 430.4V421.6M155.23 430.4V429.17M157.77 430.4V424.11M160.31 430.4V423.36M162.85 430.4V421.6M165.39 430.4V419.58M167.93 430.4V420.84M170.47 430.4V424.62M173.01 430.4V427.38M175.55 430.4V419.58M178.09 430.4V421.6M180.63 430.4V423.36M183.17 430.4V418.58M185.71 430.4V424.11M188.25 430.4V424.11M190.78 430.4V421.09M193.32 430.4V423.36M195.86 430.4V415.31M198.4 430.4V416.56M200.94 430.4V419.58M203.48 430.4V419.08M206.02 430.4V416.56M208.56 430.4V419.83M211.1 430.4V415.31M213.64 430.4V411.03M216.18 430.4V417.32M218.72 430.4V414.55M221.26 430.4V414.55M223.8 430.4V412.29M226.34 430.4V406.5M228.88 430.4V407.26M231.42 430.4V407.26M233.95 430.4V408.27M236.49 430.4V413.29M239.03 430.4V407.26M241.57 430.4V408.52M244.11 430.4V408.52M246.65 430.4V409.02M249.19 430.4V413.29M251.73 430.4V407.76M254.27 430.4V406.75M256.81 430.4V414.55M259.35 430.4V408.27M261.89 430.4V405.75M264.43 430.4V412.79M266.97 430.4V406.5M269.51 430.4V407.01M272.05 430.4V408.52M274.58 430.4V407.26M277.12 430.4V408.27M279.66 430.4V409.02M282.2 430.4V411.54M284.74 430.4V406.75M287.28 430.4V407.76M289.82 430.4V407.76M292.36 430.4V404.74M294.9 430.4V405.25M297.44 430.4V411.54M299.98 430.4V407.76M302.52 430.4V408.52M305.06 430.4V408.52M307.6 430.4V407.26M310.14 430.4V416.56M312.68 430.4V408.52M315.22 430.4V405.75M317.75 430.4V411.03M320.29 430.4V408.52M322.83 430.4V405.75M325.37 430.4V407.26M327.91 430.4V411.03M330.45 430.4V407.01M332.99 430.4V407.26M335.53 430.4V406.75M338.07 430.4V409.52M340.61 430.4V414.05M343.15 430.4V407.26M345.69 430.4V404.74M348.23 430.4V411.03M350.77 430.4V410.28M353.31 430.4V405.75M355.85 430.4V424.62" stroke="#000" stroke-width="1.15" fill="none"/>
<path d="M44.1 414.05h7M379.3 414.05h-7" stroke="#000" stroke-width="1.2" fill="none"/>
<rect x="44.1" y="397.7" width="335.2" height="32.7" fill="none" stroke="#000" stroke-width="1.7"/>
<text transform="translate(43.5,446) scale(1,0.96)" font-size="12.0" text-anchor="middle" stroke="#fff" stroke-width="0.12">2002</text>
<text transform="translate(104.45,446) scale(1,0.96)" font-size="12.0" text-anchor="middle" stroke="#fff" stroke-width="0.12">2004</text>
<text transform="translate(165.39,446) scale(1,0.96)" font-size="12.0" text-anchor="middle" stroke="#fff" stroke-width="0.12">2006</text>
<text transform="translate(226.34,446) scale(1,0.96)" font-size="12.0" text-anchor="middle" stroke="#fff" stroke-width="0.12">2008</text>
<text transform="translate(287.28,446) scale(1,0.96)" font-size="12.0" text-anchor="middle" stroke="#fff" stroke-width="0.12">2010</text>
<text transform="translate(348.23,446) scale(1,0.96)" font-size="12.0" text-anchor="middle" stroke="#fff" stroke-width="0.12">2012</text>
<text transform="translate(40.6,429.75) scale(1,0.96)" font-size="12.0" text-anchor="end" stroke="#fff" stroke-width="0.12">0</text>
<text transform="translate(40.6,417.9) scale(1,0.96)" font-size="12.0" text-anchor="end" stroke="#fff" stroke-width="0.12">4000</text>
<text transform="translate(40.6,403.85) scale(1,0.96)" font-size="12.0" text-anchor="end" stroke="#fff" stroke-width="0.12">8000</text>
<text transform="translate(47.6,409.2) scale(1,1)" font-size="14.2" text-anchor="start" stroke="#fff" stroke-width="0.12">(e)</text>
<g stroke="#dadada" stroke-width="1"></g>
<path d="M464.21 430.4V409.77M466.75 430.4V414.55M469.29 430.4V414.55M471.84 430.4V418.58M474.38 430.4V419.58M476.92 430.4V415.31M479.46 430.4V410.78M482.01 430.4V411.54M484.55 430.4V414.55M487.09 430.4V409.77M489.63 430.4V410.28M492.18 430.4V412.29M494.72 430.4V413.29M497.26 430.4V417.32M499.8 430.4V417.32M512.52 430.4V417.82M515.06 430.4V428.64M525.23 430.4V427.89M527.77 430.4V424.11M530.31 430.4V418.58M532.85 430.4V425.37M535.4 430.4V425.37M537.94 430.4V423.61M540.48 430.4V427.38M543.02 430.4V421.6M545.57 430.4V429.17M548.11 430.4V424.11M550.65 430.4V423.36M553.19 430.4V421.6M555.74 430.4V419.58M558.28 430.4V420.84M560.82 430.4V424.62M563.36 430.4V427.38M565.91 430.4V419.58M568.45 430.4V421.6M570.99 430.4V423.36M573.53 430.4V418.58M576.08 430.4V424.11M578.62 430.4V424.11M581.16 430.4V421.09M583.7 430.4V423.36M586.25 430.4V415.31M588.79 430.4V416.56M591.33 430.4V419.58M593.87 430.4V419.08M596.42 430.4V416.56M598.96 430.4V419.83M601.5 430.4V415.31M604.04 430.4V411.03M606.58 430.4V417.32M609.13 430.4V414.55M611.67 430.4V414.55M614.21 430.4V412.29M616.75 430.4V406.5M619.3 430.4V407.26M621.84 430.4V407.26M624.38 430.4V408.27M626.92 430.4V413.29M629.47 430.4V407.26M632.01 430.4V408.52M634.55 430.4V408.52M637.09 430.4V409.02M639.64 430.4V413.29M642.18 430.4V407.76M644.72 430.4V406.75M647.26 430.4V414.55M649.81 430.4V408.27M652.35 430.4V405.75M654.89 430.4V412.79M657.43 430.4V406.5M659.98 430.4V407.01M662.52 430.4V408.52M665.06 430.4V407.26M667.6 430.4V408.27M670.15 430.4V409.02M672.69 430.4V411.54M675.23 430.4V406.75M677.77 430.4V407.76M680.32 430.4V407.76M682.86 430.4V404.74M685.4 430.4V405.25M687.94 430.4V411.54M690.48 430.4V407.76M693.03 430.4V408.52M695.57 430.4V408.52M698.11 430.4V407.26M700.65 430.4V416.56M703.2 430.4V408.52M705.74 430.4V405.75M708.28 430.4V411.03M710.82 430.4V408.52M713.37 430.4V405.75M715.91 430.4V407.26M718.45 430.4V411.03M720.99 430.4V407.01M723.54 430.4V407.26M726.08 430.4V406.75M728.62 430.4V409.52M731.16 430.4V414.05M733.71 430.4V407.26M736.25 430.4V404.74M738.79 430.4V411.03M741.33 430.4V410.28M743.88 430.4V405.75M746.42 430.4V424.62" stroke="#000" stroke-width="1.15" fill="none"/>
<path d="M434.3 414.05h7M769.9 414.05h-7" stroke="#000" stroke-width="1.2" fill="none"/>
<rect x="434.3" y="397.7" width="335.6" height="32.7" fill="none" stroke="#000" stroke-width="1.7"/>
<text transform="translate(433.7,446) scale(1,0.96)" font-size="12.0" text-anchor="middle" stroke="#fff" stroke-width="0.12">2002</text>
<text transform="translate(494.72,446) scale(1,0.96)" font-size="12.0" text-anchor="middle" stroke="#fff" stroke-width="0.12">2004</text>
<text transform="translate(555.74,446) scale(1,0.96)" font-size="12.0" text-anchor="middle" stroke="#fff" stroke-width="0.12">2006</text>
<text transform="translate(616.75,446) scale(1,0.96)" font-size="12.0" text-anchor="middle" stroke="#fff" stroke-width="0.12">2008</text>
<text transform="translate(677.77,446) scale(1,0.96)" font-size="12.0" text-anchor="middle" stroke="#fff" stroke-width="0.12">2010</text>
<text transform="translate(738.79,446) scale(1,0.96)" font-size="12.0" text-anchor="middle" stroke="#fff" stroke-width="0.12">2012</text>
<text transform="translate(430.8,429.75) scale(1,0.96)" font-size="12.0" text-anchor="end" stroke="#fff" stroke-width="0.12">0</text>
<text transform="translate(430.8,417.9) scale(1,0.96)" font-size="12.0" text-anchor="end" stroke="#fff" stroke-width="0.12">4000</text>
<text transform="translate(430.8,403.85) scale(1,0.96)" font-size="12.0" text-anchor="end" stroke="#fff" stroke-width="0.12">8000</text>
<text transform="translate(438,408.6) scale(1,1)" font-size="14.2" text-anchor="start" stroke="#fff" stroke-width="0.12">(f)</text>
<text transform="translate(211.3,15.9) scale(1,0.96)" font-size="15" text-anchor="middle" stroke="#fff" stroke-width="0.12">9.42 hPa</text>
<text transform="translate(601.7,15.9) scale(1,0.96)" font-size="15" text-anchor="middle" stroke="#fff" stroke-width="0.12">39.8 hPa</text>
<text transform="translate(211.7,458.2) scale(1,0.96)" font-size="12.0" text-anchor="middle" stroke="#fff" stroke-width="0.12">Year</text>
<text transform="translate(602.1,458.2) scale(1,0.96)" font-size="12.0" text-anchor="middle" stroke="#fff" stroke-width="0.12">Year</text>
<text transform="translate(23.8,104) rotate(-90) scale(1,1)" font-size="12.25" text-anchor="middle" stroke="#fff" stroke-width="0.12">Ozone [ppmv]</text>
<text transform="translate(13.4,291.85) rotate(-90) scale(1,1)" font-size="12.25" text-anchor="middle" stroke="#fff" stroke-width="0.12">St. dev. [ppmv]</text>
</svg>
</body></html>
